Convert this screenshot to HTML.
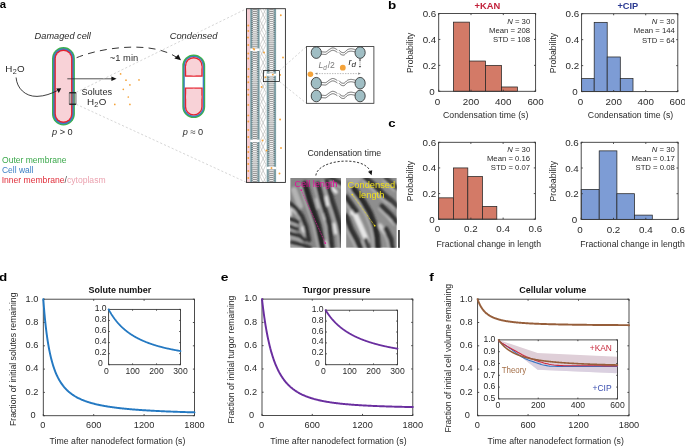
<!DOCTYPE html><html><head><meta charset="utf-8"><style>html,body{margin:0;padding:0;background:#fff;overflow:hidden}svg{display:block;will-change:transform}text{font-family:"Liberation Sans",sans-serif}</style></head><body>
<svg width="685" height="446" viewBox="0 0 685 446">
<rect width="685" height="446" fill="#fff"/>
<defs>
<pattern id="mem" x="0" y="0.2" width="9.4" height="2.05" patternUnits="userSpaceOnUse">
 <rect x="0" y="0" width="9.4" height="2.05" fill="#f8f8f8"/>
 <rect x="0" y="0" width="2.1" height="2.05" fill="#7fa2a9"/>
 <rect x="7.3" y="0" width="2.1" height="2.05" fill="#7fa2a9"/>
 <rect x="1.4" y="1.3" width="1.1" height="0.75" fill="#3e4a4d"/>
 <rect x="6.9" y="1.3" width="1.1" height="0.75" fill="#3e4a4d"/>
 <rect x="2.5" y="0.45" width="4.4" height="0.9" fill="#8c8c8c"/>
</pattern>
<filter id="bl" x="-20%" y="-20%" width="140%" height="140%"><feGaussianBlur stdDeviation="1.2"/></filter>
</defs>
<text x="-0.35" y="7.5" font-size="11.6" text-anchor="start" font-weight="bold" font-style="normal" fill="#000" textLength="6.3" lengthAdjust="spacingAndGlyphs">a</text>
<text x="34.61" y="38.7" font-size="9.57" text-anchor="start" font-weight="normal" font-style="italic" fill="#2a2a2a" textLength="56.29" lengthAdjust="spacingAndGlyphs">Damaged cell</text>
<text x="169.67" y="38.7" font-size="9.71" text-anchor="start" font-weight="normal" font-style="italic" fill="#2a2a2a" textLength="47.75" lengthAdjust="spacingAndGlyphs">Condensed</text>
<rect x="52" y="47.1" width="22.9" height="78.3" rx="11.45" ry="11.45" fill="#3db24c" />
<rect x="53.15" y="48.25" width="20.6" height="76" rx="10.3" ry="10.3" fill="#3b7cc4" />
<rect x="54.5" y="49.6" width="17.9" height="73.3" rx="8.95" ry="8.95" fill="#e5232f" />
<rect x="55.85" y="50.95" width="15.2" height="70.6" rx="7.6" ry="7.6" fill="#f8d2d7" />
<clipPath id="ctop"><rect x="170" y="40" width="50" height="36.8"/></clipPath>
<clipPath id="cbot"><rect x="170" y="87.4" width="50" height="40"/></clipPath>
<rect x="182.3" y="54.5" width="22.9" height="63.6" rx="11.45" ry="11.45" fill="#3db24c" />
<rect x="183.45" y="55.65" width="20.6" height="61.3" rx="10.3" ry="10.3" fill="#3b7cc4" />
<rect x="184.8" y="57" width="17.9" height="58.6" rx="8.95" ry="8.95" fill="#fff" />
<g clip-path="url(#ctop)">
<rect x="184.8" y="57" width="17.9" height="58.6" rx="8.95" ry="8.95" fill="#e5232f" />
<rect x="186.2" y="58.4" width="15.1" height="17" rx="7.55" fill="#f8d2d7"/>
<rect x="186.2" y="66" width="15.1" height="9.4" fill="#f8d2d7"/>
</g><g clip-path="url(#cbot)">
<rect x="184.8" y="57" width="17.9" height="58.6" rx="8.95" ry="8.95" fill="#e5232f" />
<rect x="186.2" y="88.7" width="15.1" height="25.5" rx="7.55" fill="#f8d2d7"/>
<rect x="186.2" y="88.7" width="15.1" height="10" fill="#f8d2d7"/>
</g>
<rect x="69.3" y="92.4" width="6.8" height="12.2" rx="0.6" fill="#7a7a7a" fill-opacity="0.45" stroke="#6a6a6a" stroke-width="0.7"/>
<line x1="69.3" y1="92.8" x2="76.1" y2="92.8" stroke="#111" stroke-width="1.1"/>
<line x1="69.3" y1="104.2" x2="76.1" y2="104.2" stroke="#111" stroke-width="1.1"/>
<text x="5.35" y="71.9" font-size="9.8" text-anchor="start" font-weight="normal" font-style="normal" fill="#2a2a2a" >H<tspan font-size="7.2" dy="2.4" dx="0.2">2</tspan><tspan dy="-2.4" dx="0.3">O</tspan></text>
<path d="M16.1,77.5 C16.8,88 25,96.6 37,96.4 C45,96.2 51.5,93.5 57.3,90.6" fill="none" stroke="#1e1e1e" stroke-width="0.85"/>
<path d="M61.2,88.2 L56.2,88.6 L58.8,93 Z" fill="#111"/>
<line x1="67.3" y1="78.8" x2="112.5" y2="78.8" stroke="#333" stroke-width="0.85" />
<path d="M116.6,78.8 L111.4,76.5 L111.4,81.1 Z" fill="#111"/>
<text x="81.47" y="94.5" font-size="9.55" text-anchor="start" font-weight="normal" font-style="normal" fill="#2a2a2a" textLength="30.67" lengthAdjust="spacingAndGlyphs">Solutes</text>
<text x="87.05" y="104.7" font-size="9.8" text-anchor="start" font-weight="normal" font-style="normal" fill="#2a2a2a" >H<tspan font-size="7.2" dy="2.2" dx="0.2">2</tspan><tspan dy="-2.2" dx="0.3">O</tspan></text>
<path d="M76.6,57.7 C100,48 150,40 176.5,57.2" fill="none" stroke="#1e1e1e" stroke-width="0.9" stroke-dasharray="7,5.2"/>
<path d="M181,60.2 L174.4,58.4 L178.4,54.6 Z" fill="#111"/>
<text x="109.86" y="60.6" font-size="9.71" text-anchor="start" font-weight="normal" font-style="normal" fill="#2a2a2a" textLength="28.31" lengthAdjust="spacingAndGlyphs">~1 min</text>
<text x="52" y="134.8" font-size="9.2" text-anchor="start" font-weight="normal" font-style="normal" fill="#2a2a2a" ><tspan font-style="italic">p</tspan> &gt; 0</text>
<text x="182.7" y="134.9" font-size="9.2" text-anchor="start" font-weight="normal" font-style="normal" fill="#2a2a2a" ><tspan font-style="italic">p</tspan> ≈ 0</text>
<text x="2" y="162.5" font-size="8.88" text-anchor="start" font-weight="normal" font-style="normal" fill="#3aa84a" textLength="64.54" lengthAdjust="spacingAndGlyphs">Outer membrane</text>
<text x="1.96" y="172.5" font-size="8.8" text-anchor="start" font-weight="normal" font-style="normal" fill="#3c7fc4" textLength="31.54" lengthAdjust="spacingAndGlyphs">Cell wall</text>
<text x="1.63" y="182.6" font-size="8.59" text-anchor="start" font-weight="normal" font-style="normal" fill="#e02e3a" >Inner membrane<tspan fill="#444">/</tspan><tspan fill="#eba3b0">cytoplasm</tspan></text>
<circle cx="120.6" cy="73.9" r="0.85" fill="#f5a33a"/>
<circle cx="126.0" cy="80.2" r="0.85" fill="#f5a33a"/>
<circle cx="139.0" cy="79.9" r="0.85" fill="#f5a33a"/>
<circle cx="129.9" cy="84.9" r="0.85" fill="#f5a33a"/>
<circle cx="123.3" cy="89.3" r="0.85" fill="#f5a33a"/>
<circle cx="128.3" cy="97.0" r="0.85" fill="#f5a33a"/>
<circle cx="114.8" cy="104.4" r="0.85" fill="#f5a33a"/>
<circle cx="129.9" cy="104.4" r="0.85" fill="#f5a33a"/>
<line x1="76.2" y1="92.3" x2="246.5" y2="8.7" stroke="#c4c4c4" stroke-width="0.7" stroke-dasharray="2.2,2"/>
<line x1="76.2" y1="104.3" x2="246.5" y2="182.4" stroke="#c4c4c4" stroke-width="0.7" stroke-dasharray="2.2,2"/>
<rect x="246.5" y="8.7" width="38.9" height="173.7" fill="#fff"/>
<clipPath id="memclip"><rect x="246.5" y="8.7" width="38.9" height="173.7"/></clipPath>
<rect x="246.5" y="8.7" width="3.7" height="173.7" fill="#f6cdd3"/>
<g transform="translate(250.2,0)"><rect x="0" y="8.7" width="9.4" height="173.7" fill="url(#mem)"/></g>
<g transform="translate(266.7,0)"><rect x="0" y="8.7" width="9.4" height="173.7" fill="url(#mem)"/></g>
<g clip-path="url(#memclip)">
<polyline points="260.2,8.7 266,20.7 260.2,32.7 266,44.7 260.2,56.7 266,68.7 260.2,80.7 266,92.7 260.2,104.7 266,116.7 260.2,128.7 266,140.7 260.2,152.7 266,164.7 260.2,176.7 266,188.7" fill="none" stroke="#a4a4a4" stroke-width="0.5" stroke-linejoin="round" stroke-linecap="round" />
<polyline points="260.2,-3.3 266,8.7 260.2,20.7 266,32.7 260.2,44.7 266,56.7 260.2,68.7 266,80.7 260.2,92.7 266,104.7 260.2,116.7 266,128.7 260.2,140.7 266,152.7 260.2,164.7 266,176.7 260.2,188.7" fill="none" stroke="#a4a4a4" stroke-width="0.5" stroke-linejoin="round" stroke-linecap="round" />
<polyline points="260.2,2.7 266,14.7 260.2,26.7 266,38.7 260.2,50.7 266,62.7 260.2,74.7 266,86.7 260.2,98.7 266,110.7 260.2,122.7 266,134.7 260.2,146.7 266,158.7 260.2,170.7 266,182.7" fill="none" stroke="#bcbcbc" stroke-width="0.5" stroke-linejoin="round" stroke-linecap="round" />
</g>
<rect x="250.2" y="48.4" width="9.4" height="2.6" fill="#fff"/>
<rect x="250.2" y="139.6" width="9.4" height="2.4" fill="#fff"/>
<rect x="266.7" y="73.6" width="9.4" height="2.2" fill="#fff"/>
<rect x="266.7" y="166.8" width="9.4" height="2.4" fill="#fff"/>
<circle cx="248.3" cy="25.5" r="0.95" fill="#f5a33a"/>
<circle cx="248.3" cy="31" r="0.95" fill="#f5a33a"/>
<circle cx="248.0" cy="37.5" r="0.95" fill="#f5a33a"/>
<circle cx="248.3" cy="45" r="0.95" fill="#f5a33a"/>
<circle cx="248.3" cy="53.5" r="0.95" fill="#f5a33a"/>
<circle cx="248.3" cy="58.5" r="0.95" fill="#f5a33a"/>
<circle cx="248.5" cy="69" r="0.95" fill="#f5a33a"/>
<circle cx="248.3" cy="76.8" r="0.95" fill="#f5a33a"/>
<circle cx="248.3" cy="82.2" r="0.95" fill="#f5a33a"/>
<circle cx="248.3" cy="89.6" r="0.95" fill="#f5a33a"/>
<circle cx="248.3" cy="94.7" r="0.95" fill="#f5a33a"/>
<circle cx="248.3" cy="104.9" r="0.95" fill="#f5a33a"/>
<circle cx="248.3" cy="115.4" r="0.95" fill="#f5a33a"/>
<circle cx="248.3" cy="121.5" r="0.95" fill="#f5a33a"/>
<circle cx="248.3" cy="130" r="0.95" fill="#f5a33a"/>
<circle cx="248.3" cy="137" r="0.95" fill="#f5a33a"/>
<circle cx="248.5" cy="147" r="0.95" fill="#f5a33a"/>
<circle cx="248.3" cy="152" r="0.95" fill="#f5a33a"/>
<circle cx="248.3" cy="158" r="0.95" fill="#f5a33a"/>
<circle cx="248.3" cy="164" r="0.95" fill="#f5a33a"/>
<circle cx="248.3" cy="171" r="0.95" fill="#f5a33a"/>
<circle cx="248.3" cy="178" r="0.95" fill="#f5a33a"/>
<circle cx="280.8" cy="15.2" r="0.95" fill="#f5a33a"/>
<circle cx="283.0" cy="57.5" r="0.95" fill="#f5a33a"/>
<circle cx="280.1" cy="74.9" r="0.95" fill="#f5a33a"/>
<circle cx="272.8" cy="74.6" r="0.95" fill="#f5a33a"/>
<circle cx="265.5" cy="77.2" r="0.95" fill="#f5a33a"/>
<circle cx="261.6" cy="87" r="0.95" fill="#f5a33a"/>
<circle cx="264.0" cy="52.5" r="0.95" fill="#f5a33a"/>
<circle cx="254.2" cy="49.5" r="0.95" fill="#f5a33a"/>
<circle cx="280.1" cy="119.5" r="0.95" fill="#f5a33a"/>
<circle cx="281.0" cy="148" r="0.95" fill="#f5a33a"/>
<circle cx="279.5" cy="173.5" r="0.95" fill="#f5a33a"/>
<circle cx="262.5" cy="140.5" r="0.95" fill="#f5a33a"/>
<circle cx="266.5" cy="150.5" r="0.95" fill="#f5a33a"/>
<circle cx="271.5" cy="168" r="0.95" fill="#f5a33a"/>
<circle cx="253.5" cy="48.6" r="0.95" fill="#f5a33a"/>
<rect x="246.5" y="8.7" width="38.9" height="173.7" fill="none" stroke="#2a2a2a" stroke-width="0.9"/>
<rect x="263.4" y="70.6" width="16.1" height="11" fill="none" stroke="#222" stroke-width="0.8"/>
<line x1="279.5" y1="70.6" x2="306.4" y2="46.6" stroke="#c4c4c4" stroke-width="0.7" stroke-dasharray="2.2,2"/>
<line x1="279.5" y1="81.6" x2="306.4" y2="103.3" stroke="#c4c4c4" stroke-width="0.7" stroke-dasharray="2.2,2"/>
<rect x="306.4" y="46.6" width="67.5" height="56.7" fill="#fff" stroke="#2a2a2a" stroke-width="0.8"/>
<polyline points="321.4,51.8 321.56,51.81 321.77,51.83 322.02,51.85 322.29,51.88 322.59,51.9 322.9,51.92 323.2,51.94 323.5,51.95 323.79,51.97 324.09,52 324.39,52.04 324.69,52.07 325.01,52.09 325.33,52.07 325.66,52.01 326,51.9 326.35,51.72 326.71,51.49 327.08,51.21 327.46,50.9 327.85,50.58 328.23,50.27 328.62,49.97 329,49.7 329.39,49.45 329.78,49.19 330.18,48.94 330.58,48.69 330.98,48.47 331.36,48.27 331.74,48.11 332.1,48 332.44,47.93 332.77,47.91 333.09,47.92 333.39,47.96 333.7,48.02 334,48.1 334.3,48.2 334.6,48.3 334.92,48.43 335.26,48.61 335.61,48.81 335.96,49.02 336.28,49.23 336.57,49.42 336.82,49.58 337,49.7" fill="none" stroke="#2e2e2e" stroke-width="0.7" stroke-linejoin="round" stroke-linecap="round" />
<polyline points="321.4,54.2 321.56,54.21 321.77,54.23 322.02,54.25 322.29,54.28 322.59,54.3 322.9,54.32 323.2,54.34 323.5,54.35 323.79,54.37 324.09,54.4 324.39,54.44 324.69,54.47 325.01,54.49 325.33,54.47 325.66,54.41 326,54.3 326.35,54.12 326.71,53.89 327.08,53.61 327.46,53.3 327.85,52.98 328.23,52.67 328.62,52.37 329,52.1 329.39,51.85 329.78,51.59 330.18,51.34 330.58,51.09 330.98,50.87 331.36,50.67 331.74,50.51 332.1,50.4 332.44,50.33 332.77,50.31 333.09,50.32 333.39,50.36 333.7,50.42 334,50.5 334.3,50.6 334.6,50.7 334.92,50.83 335.26,51.01 335.61,51.21 335.96,51.42 336.28,51.63 336.57,51.82 336.82,51.98 337,52.1" fill="none" stroke="#2e2e2e" stroke-width="0.7" stroke-linejoin="round" stroke-linecap="round" />
<polyline points="339.2,50.3 339.36,50.46 339.56,50.68 339.8,50.94 340.07,51.23 340.36,51.52 340.67,51.79 340.98,52.03 341.3,52.2 341.62,52.34 341.96,52.46 342.32,52.57 342.68,52.64 343.06,52.68 343.44,52.68 343.82,52.62 344.2,52.5 344.59,52.29 344.98,51.97 345.38,51.59 345.79,51.18 346.19,50.75 346.6,50.34 347,49.98 347.4,49.7 347.8,49.49 348.2,49.32 348.6,49.18 349.01,49.06 349.4,48.97 349.78,48.9 350.15,48.85 350.5,48.8 350.83,48.77 351.13,48.77 351.43,48.78 351.71,48.81 351.98,48.85 352.25,48.9 352.52,48.95 352.8,49 353.09,49.05 353.41,49.12 353.73,49.19 354.04,49.26 354.34,49.34 354.61,49.4 354.83,49.46 355,49.5" fill="none" stroke="#2e2e2e" stroke-width="0.7" stroke-linejoin="round" stroke-linecap="round" />
<polyline points="339.2,52.7 339.36,52.86 339.56,53.08 339.8,53.34 340.07,53.63 340.36,53.92 340.67,54.19 340.98,54.43 341.3,54.6 341.62,54.74 341.96,54.86 342.32,54.97 342.68,55.04 343.06,55.08 343.44,55.08 343.82,55.02 344.2,54.9 344.59,54.69 344.98,54.37 345.38,53.99 345.79,53.57 346.19,53.15 346.6,52.74 347,52.38 347.4,52.1 347.8,51.89 348.2,51.72 348.6,51.58 349.01,51.46 349.4,51.37 349.78,51.3 350.15,51.25 350.5,51.2 350.83,51.17 351.13,51.17 351.43,51.18 351.71,51.21 351.98,51.25 352.25,51.3 352.52,51.35 352.8,51.4 353.09,51.45 353.41,51.52 353.73,51.59 354.04,51.66 354.34,51.74 354.61,51.8 354.83,51.86 355,51.9" fill="none" stroke="#2e2e2e" stroke-width="0.7" stroke-linejoin="round" stroke-linecap="round" />
<ellipse cx="316.3" cy="52.6" rx="5.1" ry="5.8" fill="#a0bec4" stroke="#262626" stroke-width="0.8"/>
<ellipse cx="360.1" cy="52.6" rx="5.1" ry="5.8" fill="#a0bec4" stroke="#262626" stroke-width="0.8"/>
<polyline points="321.4,82.4 321.56,82.41 321.77,82.43 322.02,82.45 322.29,82.48 322.59,82.5 322.9,82.52 323.2,82.54 323.5,82.55 323.79,82.57 324.09,82.6 324.39,82.64 324.69,82.67 325.01,82.69 325.33,82.67 325.66,82.61 326,82.5 326.35,82.32 326.71,82.09 327.08,81.81 327.46,81.5 327.85,81.18 328.23,80.87 328.62,80.57 329,80.3 329.39,80.05 329.78,79.79 330.18,79.54 330.58,79.29 330.98,79.07 331.36,78.87 331.74,78.71 332.1,78.6 332.44,78.53 332.77,78.51 333.09,78.52 333.39,78.56 333.7,78.62 334,78.7 334.3,78.8 334.6,78.9 334.92,79.03 335.26,79.21 335.61,79.41 335.96,79.62 336.28,79.83 336.57,80.02 336.82,80.18 337,80.3" fill="none" stroke="#2e2e2e" stroke-width="0.7" stroke-linejoin="round" stroke-linecap="round" />
<polyline points="321.4,84.8 321.56,84.81 321.77,84.83 322.02,84.85 322.29,84.88 322.59,84.9 322.9,84.92 323.2,84.94 323.5,84.95 323.79,84.97 324.09,85 324.39,85.04 324.69,85.07 325.01,85.09 325.33,85.07 325.66,85.01 326,84.9 326.35,84.72 326.71,84.49 327.08,84.21 327.46,83.9 327.85,83.58 328.23,83.27 328.62,82.97 329,82.7 329.39,82.45 329.78,82.19 330.18,81.94 330.58,81.69 330.98,81.47 331.36,81.27 331.74,81.11 332.1,81 332.44,80.93 332.77,80.91 333.09,80.92 333.39,80.96 333.7,81.02 334,81.1 334.3,81.2 334.6,81.3 334.92,81.43 335.26,81.61 335.61,81.81 335.96,82.02 336.28,82.23 336.57,82.42 336.82,82.58 337,82.7" fill="none" stroke="#2e2e2e" stroke-width="0.7" stroke-linejoin="round" stroke-linecap="round" />
<polyline points="339.2,80.9 339.36,81.06 339.56,81.28 339.8,81.54 340.07,81.83 340.36,82.12 340.67,82.39 340.98,82.63 341.3,82.8 341.62,82.94 341.96,83.06 342.32,83.17 342.68,83.24 343.06,83.28 343.44,83.28 343.82,83.22 344.2,83.1 344.59,82.89 344.98,82.57 345.38,82.19 345.79,81.78 346.19,81.35 346.6,80.94 347,80.58 347.4,80.3 347.8,80.09 348.2,79.92 348.6,79.78 349.01,79.66 349.4,79.57 349.78,79.5 350.15,79.45 350.5,79.4 350.83,79.37 351.13,79.37 351.43,79.38 351.71,79.41 351.98,79.45 352.25,79.5 352.52,79.55 352.8,79.6 353.09,79.65 353.41,79.72 353.73,79.79 354.04,79.86 354.34,79.94 354.61,80 354.83,80.06 355,80.1" fill="none" stroke="#2e2e2e" stroke-width="0.7" stroke-linejoin="round" stroke-linecap="round" />
<polyline points="339.2,83.3 339.36,83.46 339.56,83.68 339.8,83.94 340.07,84.23 340.36,84.52 340.67,84.79 340.98,85.03 341.3,85.2 341.62,85.34 341.96,85.46 342.32,85.57 342.68,85.64 343.06,85.68 343.44,85.68 343.82,85.62 344.2,85.5 344.59,85.29 344.98,84.97 345.38,84.59 345.79,84.18 346.19,83.75 346.6,83.34 347,82.98 347.4,82.7 347.8,82.49 348.2,82.32 348.6,82.18 349.01,82.06 349.4,81.97 349.78,81.9 350.15,81.85 350.5,81.8 350.83,81.77 351.13,81.77 351.43,81.78 351.71,81.81 351.98,81.85 352.25,81.9 352.52,81.95 352.8,82 353.09,82.05 353.41,82.12 353.73,82.19 354.04,82.26 354.34,82.34 354.61,82.4 354.83,82.46 355,82.5" fill="none" stroke="#2e2e2e" stroke-width="0.7" stroke-linejoin="round" stroke-linecap="round" />
<ellipse cx="316.3" cy="83.2" rx="5.1" ry="5.8" fill="#a0bec4" stroke="#262626" stroke-width="0.8"/>
<ellipse cx="360.1" cy="83.2" rx="5.1" ry="5.8" fill="#a0bec4" stroke="#262626" stroke-width="0.8"/>
<polyline points="321.4,95.2 321.56,95.21 321.77,95.23 322.02,95.25 322.29,95.28 322.59,95.3 322.9,95.32 323.2,95.34 323.5,95.35 323.79,95.37 324.09,95.4 324.39,95.44 324.69,95.47 325.01,95.49 325.33,95.47 325.66,95.41 326,95.3 326.35,95.12 326.71,94.89 327.08,94.61 327.46,94.3 327.85,93.98 328.23,93.67 328.62,93.37 329,93.1 329.39,92.85 329.78,92.59 330.18,92.34 330.58,92.09 330.98,91.87 331.36,91.67 331.74,91.51 332.1,91.4 332.44,91.33 332.77,91.31 333.09,91.32 333.39,91.36 333.7,91.42 334,91.5 334.3,91.6 334.6,91.7 334.92,91.83 335.26,92.01 335.61,92.21 335.96,92.42 336.28,92.63 336.57,92.82 336.82,92.98 337,93.1" fill="none" stroke="#2e2e2e" stroke-width="0.7" stroke-linejoin="round" stroke-linecap="round" />
<polyline points="321.4,97.6 321.56,97.61 321.77,97.63 322.02,97.65 322.29,97.68 322.59,97.7 322.9,97.72 323.2,97.74 323.5,97.75 323.79,97.77 324.09,97.8 324.39,97.84 324.69,97.87 325.01,97.89 325.33,97.87 325.66,97.81 326,97.7 326.35,97.52 326.71,97.29 327.08,97.01 327.46,96.7 327.85,96.38 328.23,96.07 328.62,95.77 329,95.5 329.39,95.25 329.78,94.99 330.18,94.74 330.58,94.49 330.98,94.27 331.36,94.07 331.74,93.91 332.1,93.8 332.44,93.73 332.77,93.71 333.09,93.72 333.39,93.76 333.7,93.82 334,93.9 334.3,94 334.6,94.1 334.92,94.23 335.26,94.41 335.61,94.61 335.96,94.82 336.28,95.03 336.57,95.22 336.82,95.38 337,95.5" fill="none" stroke="#2e2e2e" stroke-width="0.7" stroke-linejoin="round" stroke-linecap="round" />
<polyline points="339.2,93.7 339.36,93.86 339.56,94.08 339.8,94.34 340.07,94.63 340.36,94.92 340.67,95.19 340.98,95.43 341.3,95.6 341.62,95.74 341.96,95.86 342.32,95.97 342.68,96.04 343.06,96.08 343.44,96.08 343.82,96.02 344.2,95.9 344.59,95.69 344.98,95.37 345.38,94.99 345.79,94.58 346.19,94.15 346.6,93.74 347,93.38 347.4,93.1 347.8,92.89 348.2,92.72 348.6,92.57 349.01,92.46 349.4,92.37 349.78,92.3 350.15,92.25 350.5,92.2 350.83,92.17 351.13,92.17 351.43,92.18 351.71,92.21 351.98,92.25 352.25,92.3 352.52,92.35 352.8,92.4 353.09,92.45 353.41,92.52 353.73,92.59 354.04,92.66 354.34,92.74 354.61,92.8 354.83,92.86 355,92.9" fill="none" stroke="#2e2e2e" stroke-width="0.7" stroke-linejoin="round" stroke-linecap="round" />
<polyline points="339.2,96.1 339.36,96.26 339.56,96.48 339.8,96.74 340.07,97.03 340.36,97.32 340.67,97.59 340.98,97.83 341.3,98 341.62,98.14 341.96,98.26 342.32,98.37 342.68,98.44 343.06,98.48 343.44,98.48 343.82,98.42 344.2,98.3 344.59,98.09 344.98,97.77 345.38,97.39 345.79,96.98 346.19,96.55 346.6,96.14 347,95.78 347.4,95.5 347.8,95.29 348.2,95.12 348.6,94.98 349.01,94.86 349.4,94.77 349.78,94.7 350.15,94.65 350.5,94.6 350.83,94.57 351.13,94.57 351.43,94.58 351.71,94.61 351.98,94.65 352.25,94.7 352.52,94.75 352.8,94.8 353.09,94.85 353.41,94.92 353.73,94.99 354.04,95.06 354.34,95.14 354.61,95.2 354.83,95.26 355,95.3" fill="none" stroke="#2e2e2e" stroke-width="0.7" stroke-linejoin="round" stroke-linecap="round" />
<ellipse cx="316.3" cy="96.0" rx="5.1" ry="5.8" fill="#a0bec4" stroke="#262626" stroke-width="0.8"/>
<ellipse cx="360.1" cy="96.0" rx="5.1" ry="5.8" fill="#a0bec4" stroke="#262626" stroke-width="0.8"/>
<text x="318.5" y="67.6" font-size="8.6" text-anchor="start" font-weight="normal" font-style="normal" fill="#7a7a7a" ><tspan font-style="italic">L</tspan><tspan font-size="6.4" dy="2.3" font-style="italic">d</tspan><tspan dy="-2.3" dx="0.8">/2</tspan></text>
<text x="348.6" y="64.9" font-size="9.2" text-anchor="start" font-weight="normal" font-style="normal" fill="#222" ><tspan font-style="italic">r</tspan><tspan font-size="8.0" dy="2.3" dx="-0.2" font-style="italic">d</tspan></text>
<circle cx="342.8" cy="67.7" r="2.9" fill="#f5a33a"/>
<circle cx="310.4" cy="74.2" r="2.8" fill="#f5a33a"/>
<line x1="316.4" y1="73.6" x2="359.4" y2="73.6" stroke="#8a8a8a" stroke-width="0.6" stroke-dasharray="1.4,1.2"/>
<path d="M314.8,73.6 L317.4,72.4 L317.4,74.8 Z" fill="#8a8a8a"/>
<path d="M360.8,73.6 L358.2,72.4 L358.2,74.8 Z" fill="#8a8a8a"/>
<line x1="360" y1="60.5" x2="360" y2="66" stroke="#333" stroke-width="0.6" stroke-dasharray="1,0.9"/>
<path d="M360,67.8 L358.9,65.9 L361.1,65.9 Z" fill="#333"/>
<path d="M360,58.6 L358.9,60.5 L361.1,60.5 Z" fill="#333"/>
<text x="307.44" y="155.5" font-size="9.2" text-anchor="start" font-weight="normal" font-style="normal" fill="#2a2a2a" textLength="73.76" lengthAdjust="spacingAndGlyphs">Condensation time</text>
<path d="M315.8,175.5 C318,159 364,155.5 370.2,171.2" fill="none" stroke="#1e1e1e" stroke-width="0.9" stroke-dasharray="2.2,1.7"/>
<path d="M371.6,175.2 L368,171.8 L372.2,170.2 Z" fill="#111"/>
<clipPath id="mc1"><rect x="290.2" y="178.0" width="50.8" height="69.8"/></clipPath>
<g clip-path="url(#mc1)">
<rect x="290.2" y="178.0" width="50.8" height="69.8" fill="#868686"/>
<g filter="url(#bl)">
<polyline points="294,190 297,198 300,206" fill="none" stroke="#b4b4b4" stroke-width="6" stroke-linejoin="round" stroke-linecap="round" />
<polyline points="292,208 296,212" fill="none" stroke="#c4c4c4" stroke-width="4" stroke-linejoin="round" stroke-linecap="round" />
<polyline points="289.5,210 290,215" fill="none" stroke="#eeeeee" stroke-width="3.5" stroke-linejoin="round" stroke-linecap="round" />
<polyline points="302.5,228 303.5,231" fill="none" stroke="#e8e8e8" stroke-width="3.5" stroke-linejoin="round" stroke-linecap="round" />
<polyline points="326.5,197 327.5,205" fill="none" stroke="#f2f2f2" stroke-width="3.2" stroke-linejoin="round" stroke-linecap="round" />
<polyline points="334,224 335.5,233" fill="none" stroke="#e8e8e8" stroke-width="3.0" stroke-linejoin="round" stroke-linecap="round" />
<polyline points="324.5,214 325.5,219" fill="none" stroke="#f0f0f0" stroke-width="3.0" stroke-linejoin="round" stroke-linecap="round" />
<polyline points="325,242 327,248" fill="none" stroke="#f2f2f2" stroke-width="3.5" stroke-linejoin="round" stroke-linecap="round" />
<polyline points="316,199 318,208" fill="none" stroke="#c8c8c8" stroke-width="2.0" stroke-linejoin="round" stroke-linecap="round" />
<polyline points="332,188 336,192" fill="none" stroke="#e8e8e8" stroke-width="3.5" stroke-linejoin="round" stroke-linecap="round" />
<polyline points="300.46,185.28 304.96,201.28 309.46,214.28 313.46,226.28 318.46,249.28" fill="none" stroke="#cccccc" stroke-width="1.8" stroke-linejoin="round" stroke-linecap="round" opacity="0.65"/>
<polyline points="313.98,184.88 317.98,200.88 321.98,213.88 325.58,225.88 327.98,248.88" fill="none" stroke="#cccccc" stroke-width="1.8" stroke-linejoin="round" stroke-linecap="round" opacity="0.65"/>
<polyline points="322.99,181.96 327.99,200.96 331.99,212.96 335.99,225.96 337.99,236.96 338.99,248.96" fill="none" stroke="#cccccc" stroke-width="1.8" stroke-linejoin="round" stroke-linecap="round" opacity="0.65"/>
<polyline points="329.2,181.3 340.2,187.3" fill="none" stroke="#cccccc" stroke-width="1.8" stroke-linejoin="round" stroke-linecap="round" opacity="0.65"/>
<polyline points="285.59,204.85 292.59,209.85 298.59,217.85 302.59,227.85 305.59,241.85" fill="none" stroke="#cccccc" stroke-width="1.8" stroke-linejoin="round" stroke-linecap="round" opacity="0.65"/>
<polyline points="287.68,221.89 296.68,225.39" fill="none" stroke="#cccccc" stroke-width="1.8" stroke-linejoin="round" stroke-linecap="round" opacity="0.65"/>
<polyline points="287.76,229.3 295.76,232.3" fill="none" stroke="#cccccc" stroke-width="1.8" stroke-linejoin="round" stroke-linecap="round" opacity="0.65"/>
<polyline points="287.54,236.33 298.54,239.33 303.54,243.33" fill="none" stroke="#cccccc" stroke-width="1.8" stroke-linejoin="round" stroke-linecap="round" opacity="0.65"/>
<polyline points="290.94,245.98 301.94,248.48 308.94,251.48" fill="none" stroke="#cccccc" stroke-width="1.8" stroke-linejoin="round" stroke-linecap="round" opacity="0.65"/>
<polyline points="305,184 309.5,200 314,213 318,225 323,248" fill="none" stroke="#282828" stroke-width="6.24" stroke-linejoin="round" stroke-linecap="round" />
<polyline points="318,184 322,200 326,213 329.6,225 332,248" fill="none" stroke="#303030" stroke-width="5.04" stroke-linejoin="round" stroke-linecap="round" />
<polyline points="327,181 332,200 336,212 340,225 342,236 343,248" fill="none" stroke="#343434" stroke-width="5.04" stroke-linejoin="round" stroke-linecap="round" />
<polyline points="331,178 342,184" fill="none" stroke="#3a3a3a" stroke-width="4.32" stroke-linejoin="round" stroke-linecap="round" />
<polyline points="289,203 296,208 302,216 306,226 309,240" fill="none" stroke="#323232" stroke-width="4.56" stroke-linejoin="round" stroke-linecap="round" />
<polyline points="289,218.5 298,222" fill="none" stroke="#383838" stroke-width="4.08" stroke-linejoin="round" stroke-linecap="round" />
<polyline points="289,226 297,229" fill="none" stroke="#3a3a3a" stroke-width="3.84" stroke-linejoin="round" stroke-linecap="round" />
<polyline points="289,233 300,236 305,240" fill="none" stroke="#363636" stroke-width="4.08" stroke-linejoin="round" stroke-linecap="round" />
<polyline points="292,242.5 303,245 310,248" fill="none" stroke="#383838" stroke-width="4.08" stroke-linejoin="round" stroke-linecap="round" />
</g></g>
<clipPath id="mc2"><rect x="346.1" y="178.0" width="50.7" height="69.8"/></clipPath>
<g clip-path="url(#mc2)">
<rect x="346.1" y="178.0" width="50.7" height="69.8" fill="#8e8e8e"/>
<g filter="url(#bl)">
<polyline points="346,178 358,178 350,188" fill="none" stroke="#a4a4a4" stroke-width="7" stroke-linejoin="round" stroke-linecap="round" />
<polyline points="354,212 360,225 367,241" fill="none" stroke="#e6e6e6" stroke-width="5.5" stroke-linejoin="round" stroke-linecap="round" />
<polyline points="351.5,212 352,213.5" fill="none" stroke="#f6f6f6" stroke-width="3.5" stroke-linejoin="round" stroke-linecap="round" />
<polyline points="380,226 385,232" fill="none" stroke="#cfcfcf" stroke-width="5" stroke-linejoin="round" stroke-linecap="round" />
<polyline points="391,238 394,246" fill="none" stroke="#d8d8d8" stroke-width="3" stroke-linejoin="round" stroke-linecap="round" />
<polyline points="388,214 392,220" fill="none" stroke="#d8d8d8" stroke-width="3" stroke-linejoin="round" stroke-linecap="round" />
<polyline points="363.05,181.21 371.05,188.21 379.05,196.21 387.05,203.21" fill="none" stroke="#cccccc" stroke-width="1.8" stroke-linejoin="round" stroke-linecap="round" opacity="0.65"/>
<polyline points="349.73,190.71 358.73,202.71 365.73,214.71 370.73,227.71 372.73,237.71 373.73,250.71" fill="none" stroke="#cccccc" stroke-width="1.8" stroke-linejoin="round" stroke-linecap="round" opacity="0.65"/>
<polyline points="342.55,199.46 347.55,206.46 352.55,213.46" fill="none" stroke="#cccccc" stroke-width="1.8" stroke-linejoin="round" stroke-linecap="round" opacity="0.65"/>
<polyline points="342.03,217.8 347.03,230.8 353.03,241.8 357.03,250.8" fill="none" stroke="#cccccc" stroke-width="1.8" stroke-linejoin="round" stroke-linecap="round" opacity="0.65"/>
<polyline points="378.99,208.82 385.99,215.82 393.99,224.82" fill="none" stroke="#cccccc" stroke-width="1.8" stroke-linejoin="round" stroke-linecap="round" opacity="0.65"/>
<polyline points="382.11,230.36 387.11,240.36 389.11,250.36" fill="none" stroke="#cccccc" stroke-width="1.8" stroke-linejoin="round" stroke-linecap="round" opacity="0.65"/>
<polyline points="387.17,201.83 394.17,208.83" fill="none" stroke="#cccccc" stroke-width="1.8" stroke-linejoin="round" stroke-linecap="round" opacity="0.65"/>
<polyline points="383.39,180.87 394.39,190.87" fill="none" stroke="#cccccc" stroke-width="1.8" stroke-linejoin="round" stroke-linecap="round" opacity="0.65"/>
<polyline points="362.43,241.19 365.43,250.19" fill="none" stroke="#cccccc" stroke-width="1.8" stroke-linejoin="round" stroke-linecap="round" opacity="0.65"/>
<polyline points="366,178 374,185 382,193 390,200" fill="none" stroke="#363636" stroke-width="5.52" stroke-linejoin="round" stroke-linecap="round" />
<polyline points="354,189 363,201 370,213 375,226 377,236 378,249" fill="none" stroke="#2a2a2a" stroke-width="6.0" stroke-linejoin="round" stroke-linecap="round" />
<polyline points="346,197 351,204 356,211" fill="none" stroke="#333333" stroke-width="5.28" stroke-linejoin="round" stroke-linecap="round" />
<polyline points="346,216 351,229 357,240 361,249" fill="none" stroke="#303030" stroke-width="5.52" stroke-linejoin="round" stroke-linecap="round" />
<polyline points="382,206 389,213 397,222" fill="none" stroke="#363636" stroke-width="5.04" stroke-linejoin="round" stroke-linecap="round" />
<polyline points="386,229 391,239 393,249" fill="none" stroke="#363636" stroke-width="5.04" stroke-linejoin="round" stroke-linecap="round" />
<polyline points="390,199 397,206" fill="none" stroke="#3c3c3c" stroke-width="4.8" stroke-linejoin="round" stroke-linecap="round" />
<polyline points="386,178 397,188" fill="none" stroke="#454545" stroke-width="4.56" stroke-linejoin="round" stroke-linecap="round" />
<polyline points="366,240 369,249" fill="none" stroke="#444" stroke-width="4.32" stroke-linejoin="round" stroke-linecap="round" />
</g></g>
<text x="294.42" y="187" font-size="9.51" text-anchor="start" font-weight="normal" font-style="normal" fill="#e0109a" textLength="43.25" lengthAdjust="spacingAndGlyphs">Cell length</text>
<text x="347.62" y="188.4" font-size="9.66" text-anchor="start" font-weight="normal" font-style="normal" fill="#f0e01c" textLength="47.57" lengthAdjust="spacingAndGlyphs">Condensed</text>
<text x="359.07" y="198" font-size="9.64" text-anchor="start" font-weight="normal" font-style="normal" fill="#f0e01c" textLength="25.3" lengthAdjust="spacingAndGlyphs">length</text>
<line x1="301.3" y1="190.1" x2="325.3" y2="243.1" stroke="#e0189b" stroke-width="0.8" stroke-dasharray="1,0.8"/>
<circle cx="301.3" cy="190.1" r="0.9" fill="#e0189b"/><circle cx="325.3" cy="243.1" r="0.9" fill="#e0189b"/>
<line x1="352.3" y1="194.6" x2="374.7" y2="225.7" stroke="#f0e01c" stroke-width="0.8" stroke-dasharray="1,0.8"/>
<circle cx="352.3" cy="194.6" r="0.9" fill="#f0e01c"/><circle cx="374.7" cy="225.7" r="0.9" fill="#f0e01c"/>
<rect x="398.1" y="230" width="1.7" height="17.8" fill="#333"/>
<text x="387.95" y="8.7" font-size="11.6" text-anchor="start" font-weight="bold" font-style="normal" fill="#000" textLength="8.23" lengthAdjust="spacingAndGlyphs">b</text>
<text x="388.24" y="126.7" font-size="11.6" text-anchor="start" font-weight="bold" font-style="normal" fill="#000" textLength="7.33" lengthAdjust="spacingAndGlyphs">c</text>
<text x="474.53" y="8.6" font-size="9.34" text-anchor="start" font-weight="bold" font-style="normal" fill="#c2203a" >+KAN</text>
<text x="617.43" y="8.7" font-size="9.27" text-anchor="start" font-weight="bold" font-style="normal" fill="#2b3a92" >+CIP</text>
<rect x="453.4" y="22.14" width="16" height="69.16" fill="#d37a67" stroke="#262626" stroke-width="0.75"/>
<rect x="469.4" y="61.04" width="16.1" height="30.26" fill="#d37a67" stroke="#262626" stroke-width="0.75"/>
<rect x="485.5" y="65.37" width="16" height="25.93" fill="#d37a67" stroke="#262626" stroke-width="0.75"/>
<rect x="501.5" y="86.98" width="15.9" height="4.32" fill="#d37a67" stroke="#262626" stroke-width="0.75"/>
<rect x="438.7" y="13.5" width="96.9" height="77.8" fill="none" stroke="#3a3a3a" stroke-width="0.9"/>
<line x1="438.7" y1="91.3" x2="438.7" y2="89.7" stroke="#3a3a3a" stroke-width="0.9" />
<line x1="438.7" y1="13.5" x2="438.7" y2="15.1" stroke="#3a3a3a" stroke-width="0.9" />
<text x="437.6" y="104.5" font-size="9.8" text-anchor="middle" font-weight="normal" font-style="normal" fill="#2a2a2a" >0</text>
<line x1="471" y1="91.3" x2="471" y2="89.7" stroke="#3a3a3a" stroke-width="0.9" />
<line x1="471" y1="13.5" x2="471" y2="15.1" stroke="#3a3a3a" stroke-width="0.9" />
<text x="471" y="104.5" font-size="9.8" text-anchor="middle" font-weight="normal" font-style="normal" fill="#2a2a2a" >200</text>
<line x1="503.3" y1="91.3" x2="503.3" y2="89.7" stroke="#3a3a3a" stroke-width="0.9" />
<line x1="503.3" y1="13.5" x2="503.3" y2="15.1" stroke="#3a3a3a" stroke-width="0.9" />
<text x="503.3" y="104.5" font-size="9.8" text-anchor="middle" font-weight="normal" font-style="normal" fill="#2a2a2a" >400</text>
<line x1="535.6" y1="91.3" x2="535.6" y2="89.7" stroke="#3a3a3a" stroke-width="0.9" />
<line x1="535.6" y1="13.5" x2="535.6" y2="15.1" stroke="#3a3a3a" stroke-width="0.9" />
<text x="535.6" y="104.5" font-size="9.8" text-anchor="middle" font-weight="normal" font-style="normal" fill="#2a2a2a" >600</text>
<line x1="438.7" y1="91.3" x2="440.3" y2="91.3" stroke="#3a3a3a" stroke-width="0.9" />
<line x1="535.6" y1="91.3" x2="534" y2="91.3" stroke="#3a3a3a" stroke-width="0.9" />
<text x="434.7" y="94.8" font-size="9.8" text-anchor="end" font-weight="normal" font-style="normal" fill="#2a2a2a" >0</text>
<line x1="438.7" y1="65.37" x2="440.3" y2="65.37" stroke="#3a3a3a" stroke-width="0.9" />
<line x1="535.6" y1="65.37" x2="534" y2="65.37" stroke="#3a3a3a" stroke-width="0.9" />
<text x="436.3" y="68.87" font-size="9.8" text-anchor="end" font-weight="normal" font-style="normal" fill="#2a2a2a" >0.2</text>
<line x1="438.7" y1="39.43" x2="440.3" y2="39.43" stroke="#3a3a3a" stroke-width="0.9" />
<line x1="535.6" y1="39.43" x2="534" y2="39.43" stroke="#3a3a3a" stroke-width="0.9" />
<text x="436.3" y="42.93" font-size="9.8" text-anchor="end" font-weight="normal" font-style="normal" fill="#2a2a2a" >0.4</text>
<line x1="438.7" y1="13.5" x2="440.3" y2="13.5" stroke="#3a3a3a" stroke-width="0.9" />
<line x1="535.6" y1="13.5" x2="534" y2="13.5" stroke="#3a3a3a" stroke-width="0.9" />
<text x="436.3" y="17" font-size="9.8" text-anchor="end" font-weight="normal" font-style="normal" fill="#2a2a2a" >0.6</text>
<text x="0" y="0" font-size="8.67" fill="#2a2a2a" transform="translate(413.1,72.99) rotate(-90)">Probability</text>
<text x="443.05" y="118.1" font-size="9.07" text-anchor="start" font-weight="normal" font-style="normal" fill="#2a2a2a" textLength="85.32" lengthAdjust="spacingAndGlyphs">Condensation time (s)</text>
<text x="530.2" y="23.8" font-size="7.75" text-anchor="end" font-weight="normal" font-style="normal" fill="#2a2a2a" ><tspan font-style="italic">N</tspan> = 30</text>
<text x="530.2" y="33.3" font-size="7.75" text-anchor="end" font-weight="normal" font-style="normal" fill="#2a2a2a" >Mean = 208</text>
<text x="530.2" y="42.2" font-size="7.75" text-anchor="end" font-weight="normal" font-style="normal" fill="#2a2a2a" >STD = 108</text>
<rect x="581.6" y="78.62" width="12.6" height="12.98" fill="#7d9cd5" stroke="#262626" stroke-width="0.75"/>
<rect x="594.2" y="22.36" width="13" height="69.24" fill="#7d9cd5" stroke="#262626" stroke-width="0.75"/>
<rect x="607.2" y="56.98" width="13.1" height="34.62" fill="#7d9cd5" stroke="#262626" stroke-width="0.75"/>
<rect x="620.3" y="78.62" width="12.7" height="12.98" fill="#7d9cd5" stroke="#262626" stroke-width="0.75"/>
<rect x="581.6" y="13.7" width="96.2" height="77.9" fill="none" stroke="#3a3a3a" stroke-width="0.9"/>
<line x1="581.6" y1="91.6" x2="581.6" y2="90" stroke="#3a3a3a" stroke-width="0.9" />
<line x1="581.6" y1="13.7" x2="581.6" y2="15.3" stroke="#3a3a3a" stroke-width="0.9" />
<text x="580.5" y="104.8" font-size="9.8" text-anchor="middle" font-weight="normal" font-style="normal" fill="#2a2a2a" >0</text>
<line x1="613.67" y1="91.6" x2="613.67" y2="90" stroke="#3a3a3a" stroke-width="0.9" />
<line x1="613.67" y1="13.7" x2="613.67" y2="15.3" stroke="#3a3a3a" stroke-width="0.9" />
<text x="613.67" y="104.8" font-size="9.8" text-anchor="middle" font-weight="normal" font-style="normal" fill="#2a2a2a" >200</text>
<line x1="645.73" y1="91.6" x2="645.73" y2="90" stroke="#3a3a3a" stroke-width="0.9" />
<line x1="645.73" y1="13.7" x2="645.73" y2="15.3" stroke="#3a3a3a" stroke-width="0.9" />
<text x="645.73" y="104.8" font-size="9.8" text-anchor="middle" font-weight="normal" font-style="normal" fill="#2a2a2a" >400</text>
<line x1="677.8" y1="91.6" x2="677.8" y2="90" stroke="#3a3a3a" stroke-width="0.9" />
<line x1="677.8" y1="13.7" x2="677.8" y2="15.3" stroke="#3a3a3a" stroke-width="0.9" />
<text x="677.8" y="104.8" font-size="9.8" text-anchor="middle" font-weight="normal" font-style="normal" fill="#2a2a2a" >600</text>
<line x1="581.6" y1="91.6" x2="583.2" y2="91.6" stroke="#3a3a3a" stroke-width="0.9" />
<line x1="677.8" y1="91.6" x2="676.2" y2="91.6" stroke="#3a3a3a" stroke-width="0.9" />
<text x="577.6" y="95.1" font-size="9.8" text-anchor="end" font-weight="normal" font-style="normal" fill="#2a2a2a" >0</text>
<line x1="581.6" y1="65.63" x2="583.2" y2="65.63" stroke="#3a3a3a" stroke-width="0.9" />
<line x1="677.8" y1="65.63" x2="676.2" y2="65.63" stroke="#3a3a3a" stroke-width="0.9" />
<text x="579.2" y="69.13" font-size="9.8" text-anchor="end" font-weight="normal" font-style="normal" fill="#2a2a2a" >0.2</text>
<line x1="581.6" y1="39.67" x2="583.2" y2="39.67" stroke="#3a3a3a" stroke-width="0.9" />
<line x1="677.8" y1="39.67" x2="676.2" y2="39.67" stroke="#3a3a3a" stroke-width="0.9" />
<text x="579.2" y="43.17" font-size="9.8" text-anchor="end" font-weight="normal" font-style="normal" fill="#2a2a2a" >0.4</text>
<line x1="581.6" y1="13.7" x2="583.2" y2="13.7" stroke="#3a3a3a" stroke-width="0.9" />
<line x1="677.8" y1="13.7" x2="676.2" y2="13.7" stroke="#3a3a3a" stroke-width="0.9" />
<text x="579.2" y="17.2" font-size="9.8" text-anchor="end" font-weight="normal" font-style="normal" fill="#2a2a2a" >0.6</text>
<text x="0" y="0" font-size="8.67" fill="#2a2a2a" transform="translate(556,73.24) rotate(-90)">Probability</text>
<text x="587.85" y="118.3" font-size="9.08" text-anchor="start" font-weight="normal" font-style="normal" fill="#2a2a2a" textLength="85.42" lengthAdjust="spacingAndGlyphs">Condensation time (s)</text>
<text x="674.9" y="24.1" font-size="7.75" text-anchor="end" font-weight="normal" font-style="normal" fill="#2a2a2a" ><tspan font-style="italic">N</tspan> = 30</text>
<text x="674.9" y="33.4" font-size="7.75" text-anchor="end" font-weight="normal" font-style="normal" fill="#2a2a2a" >Mean = 144</text>
<text x="674.9" y="42.6" font-size="7.75" text-anchor="end" font-weight="normal" font-style="normal" fill="#2a2a2a" >STD = 64</text>
<rect x="438.6" y="197.84" width="14.8" height="21.36" fill="#d37a67" stroke="#262626" stroke-width="0.75"/>
<rect x="453.4" y="167.93" width="14.4" height="51.27" fill="#d37a67" stroke="#262626" stroke-width="0.75"/>
<rect x="467.8" y="176.48" width="14.7" height="42.72" fill="#d37a67" stroke="#262626" stroke-width="0.75"/>
<rect x="482.5" y="206.38" width="14.3" height="12.82" fill="#d37a67" stroke="#262626" stroke-width="0.75"/>
<rect x="438.6" y="142.3" width="96.8" height="76.9" fill="none" stroke="#3a3a3a" stroke-width="0.9"/>
<line x1="438.6" y1="219.2" x2="438.6" y2="217.6" stroke="#3a3a3a" stroke-width="0.9" />
<line x1="438.6" y1="142.3" x2="438.6" y2="143.9" stroke="#3a3a3a" stroke-width="0.9" />
<text x="437.5" y="232.4" font-size="9.8" text-anchor="middle" font-weight="normal" font-style="normal" fill="#2a2a2a" >0</text>
<line x1="470.87" y1="219.2" x2="470.87" y2="217.6" stroke="#3a3a3a" stroke-width="0.9" />
<line x1="470.87" y1="142.3" x2="470.87" y2="143.9" stroke="#3a3a3a" stroke-width="0.9" />
<text x="470.87" y="232.4" font-size="9.8" text-anchor="middle" font-weight="normal" font-style="normal" fill="#2a2a2a" >0.2</text>
<line x1="503.13" y1="219.2" x2="503.13" y2="217.6" stroke="#3a3a3a" stroke-width="0.9" />
<line x1="503.13" y1="142.3" x2="503.13" y2="143.9" stroke="#3a3a3a" stroke-width="0.9" />
<text x="503.13" y="232.4" font-size="9.8" text-anchor="middle" font-weight="normal" font-style="normal" fill="#2a2a2a" >0.4</text>
<line x1="535.4" y1="219.2" x2="535.4" y2="217.6" stroke="#3a3a3a" stroke-width="0.9" />
<line x1="535.4" y1="142.3" x2="535.4" y2="143.9" stroke="#3a3a3a" stroke-width="0.9" />
<text x="535.4" y="232.4" font-size="9.8" text-anchor="middle" font-weight="normal" font-style="normal" fill="#2a2a2a" >0.6</text>
<line x1="438.6" y1="219.2" x2="440.2" y2="219.2" stroke="#3a3a3a" stroke-width="0.9" />
<line x1="535.4" y1="219.2" x2="533.8" y2="219.2" stroke="#3a3a3a" stroke-width="0.9" />
<text x="434.6" y="222.7" font-size="9.8" text-anchor="end" font-weight="normal" font-style="normal" fill="#2a2a2a" >0</text>
<line x1="438.6" y1="193.57" x2="440.2" y2="193.57" stroke="#3a3a3a" stroke-width="0.9" />
<line x1="535.4" y1="193.57" x2="533.8" y2="193.57" stroke="#3a3a3a" stroke-width="0.9" />
<text x="436.2" y="197.07" font-size="9.8" text-anchor="end" font-weight="normal" font-style="normal" fill="#2a2a2a" >0.2</text>
<line x1="438.6" y1="167.93" x2="440.2" y2="167.93" stroke="#3a3a3a" stroke-width="0.9" />
<line x1="535.4" y1="167.93" x2="533.8" y2="167.93" stroke="#3a3a3a" stroke-width="0.9" />
<text x="436.2" y="171.43" font-size="9.8" text-anchor="end" font-weight="normal" font-style="normal" fill="#2a2a2a" >0.4</text>
<line x1="438.6" y1="142.3" x2="440.2" y2="142.3" stroke="#3a3a3a" stroke-width="0.9" />
<line x1="535.4" y1="142.3" x2="533.8" y2="142.3" stroke="#3a3a3a" stroke-width="0.9" />
<text x="436.2" y="145.8" font-size="9.8" text-anchor="end" font-weight="normal" font-style="normal" fill="#2a2a2a" >0.6</text>
<text x="0" y="0" font-size="8.67" fill="#2a2a2a" transform="translate(413,201.34) rotate(-90)">Probability</text>
<text x="436.48" y="246.9" font-size="9.05" text-anchor="start" font-weight="normal" font-style="normal" fill="#2a2a2a" textLength="104.6" lengthAdjust="spacingAndGlyphs">Fractional change in length</text>
<text x="530.2" y="151.6" font-size="7.75" text-anchor="end" font-weight="normal" font-style="normal" fill="#2a2a2a" ><tspan font-style="italic">N</tspan> = 30</text>
<text x="530.2" y="161.3" font-size="7.75" text-anchor="end" font-weight="normal" font-style="normal" fill="#2a2a2a" >Mean = 0.16</text>
<text x="530.2" y="169.9" font-size="7.75" text-anchor="end" font-weight="normal" font-style="normal" fill="#2a2a2a" >STD = 0.07</text>
<rect x="581.2" y="189.42" width="18" height="29.98" fill="#7d9cd5" stroke="#262626" stroke-width="0.75"/>
<rect x="599.2" y="150.87" width="17.7" height="68.53" fill="#7d9cd5" stroke="#262626" stroke-width="0.75"/>
<rect x="616.9" y="193.7" width="17.6" height="25.7" fill="#7d9cd5" stroke="#262626" stroke-width="0.75"/>
<rect x="634.5" y="215.12" width="17.8" height="4.28" fill="#7d9cd5" stroke="#262626" stroke-width="0.75"/>
<rect x="581.2" y="142.3" width="96.9" height="77.1" fill="none" stroke="#3a3a3a" stroke-width="0.9"/>
<line x1="581.2" y1="219.4" x2="581.2" y2="217.8" stroke="#3a3a3a" stroke-width="0.9" />
<line x1="581.2" y1="142.3" x2="581.2" y2="143.9" stroke="#3a3a3a" stroke-width="0.9" />
<text x="580.1" y="232.6" font-size="9.8" text-anchor="middle" font-weight="normal" font-style="normal" fill="#2a2a2a" >0</text>
<line x1="613.5" y1="219.4" x2="613.5" y2="217.8" stroke="#3a3a3a" stroke-width="0.9" />
<line x1="613.5" y1="142.3" x2="613.5" y2="143.9" stroke="#3a3a3a" stroke-width="0.9" />
<text x="613.5" y="232.6" font-size="9.8" text-anchor="middle" font-weight="normal" font-style="normal" fill="#2a2a2a" >0.2</text>
<line x1="645.8" y1="219.4" x2="645.8" y2="217.8" stroke="#3a3a3a" stroke-width="0.9" />
<line x1="645.8" y1="142.3" x2="645.8" y2="143.9" stroke="#3a3a3a" stroke-width="0.9" />
<text x="645.8" y="232.6" font-size="9.8" text-anchor="middle" font-weight="normal" font-style="normal" fill="#2a2a2a" >0.4</text>
<line x1="678.1" y1="219.4" x2="678.1" y2="217.8" stroke="#3a3a3a" stroke-width="0.9" />
<line x1="678.1" y1="142.3" x2="678.1" y2="143.9" stroke="#3a3a3a" stroke-width="0.9" />
<text x="678.1" y="232.6" font-size="9.8" text-anchor="middle" font-weight="normal" font-style="normal" fill="#2a2a2a" >0.6</text>
<line x1="581.2" y1="219.4" x2="582.8" y2="219.4" stroke="#3a3a3a" stroke-width="0.9" />
<line x1="678.1" y1="219.4" x2="676.5" y2="219.4" stroke="#3a3a3a" stroke-width="0.9" />
<text x="577.2" y="222.9" font-size="9.8" text-anchor="end" font-weight="normal" font-style="normal" fill="#2a2a2a" >0</text>
<line x1="581.2" y1="193.7" x2="582.8" y2="193.7" stroke="#3a3a3a" stroke-width="0.9" />
<line x1="678.1" y1="193.7" x2="676.5" y2="193.7" stroke="#3a3a3a" stroke-width="0.9" />
<text x="578.8" y="197.2" font-size="9.8" text-anchor="end" font-weight="normal" font-style="normal" fill="#2a2a2a" >0.2</text>
<line x1="581.2" y1="168" x2="582.8" y2="168" stroke="#3a3a3a" stroke-width="0.9" />
<line x1="678.1" y1="168" x2="676.5" y2="168" stroke="#3a3a3a" stroke-width="0.9" />
<text x="578.8" y="171.5" font-size="9.8" text-anchor="end" font-weight="normal" font-style="normal" fill="#2a2a2a" >0.4</text>
<line x1="581.2" y1="142.3" x2="582.8" y2="142.3" stroke="#3a3a3a" stroke-width="0.9" />
<line x1="678.1" y1="142.3" x2="676.5" y2="142.3" stroke="#3a3a3a" stroke-width="0.9" />
<text x="578.8" y="145.8" font-size="9.8" text-anchor="end" font-weight="normal" font-style="normal" fill="#2a2a2a" >0.6</text>
<text x="0" y="0" font-size="8.67" fill="#2a2a2a" transform="translate(555.6,201.44) rotate(-90)">Probability</text>
<text x="580.18" y="247.1" font-size="9.05" text-anchor="start" font-weight="normal" font-style="normal" fill="#2a2a2a" textLength="104.6" lengthAdjust="spacingAndGlyphs">Fractional change in length</text>
<text x="674.9" y="151.8" font-size="7.75" text-anchor="end" font-weight="normal" font-style="normal" fill="#2a2a2a" ><tspan font-style="italic">N</tspan> = 30</text>
<text x="674.9" y="161.3" font-size="7.75" text-anchor="end" font-weight="normal" font-style="normal" fill="#2a2a2a" >Mean = 0.17</text>
<text x="674.9" y="170" font-size="7.75" text-anchor="end" font-weight="normal" font-style="normal" fill="#2a2a2a" >STD = 0.08</text>
<text x="-0.96" y="280.8" font-size="11.6" text-anchor="start" font-weight="bold" font-style="normal" fill="#000" textLength="8.23" lengthAdjust="spacingAndGlyphs">d</text>
<text x="88.53" y="292.85" font-size="8.97" text-anchor="start" font-weight="bold" font-style="normal" fill="#111" >Solute number</text>
<text x="0" y="0" font-size="8.69" fill="#2a2a2a" transform="translate(16.1,426) rotate(-90)">Fraction of initial solutes remaining</text>
<text x="49.62" y="443.7" font-size="9.06" text-anchor="start" font-weight="normal" font-style="normal" fill="#2a2a2a" textLength="135.73" lengthAdjust="spacingAndGlyphs">Time after nanodefect formation (s)</text>
<rect x="43.3" y="299.2" width="151.2" height="116.5" fill="none" stroke="#3a3a3a" stroke-width="0.9"/>
<line x1="43.3" y1="415.7" x2="43.3" y2="414.1" stroke="#3a3a3a" stroke-width="0.9" />
<line x1="43.3" y1="299.2" x2="43.3" y2="300.8" stroke="#3a3a3a" stroke-width="0.9" />
<text x="42.9" y="428.4" font-size="9.2" text-anchor="middle" font-weight="normal" font-style="normal" fill="#2a2a2a" >0</text>
<line x1="93.7" y1="415.7" x2="93.7" y2="414.1" stroke="#3a3a3a" stroke-width="0.9" />
<line x1="93.7" y1="299.2" x2="93.7" y2="300.8" stroke="#3a3a3a" stroke-width="0.9" />
<text x="93.7" y="428.4" font-size="9.2" text-anchor="middle" font-weight="normal" font-style="normal" fill="#2a2a2a" >600</text>
<line x1="144.1" y1="415.7" x2="144.1" y2="414.1" stroke="#3a3a3a" stroke-width="0.9" />
<line x1="144.1" y1="299.2" x2="144.1" y2="300.8" stroke="#3a3a3a" stroke-width="0.9" />
<text x="144.1" y="428.4" font-size="9.2" text-anchor="middle" font-weight="normal" font-style="normal" fill="#2a2a2a" >1200</text>
<line x1="194.5" y1="415.7" x2="194.5" y2="414.1" stroke="#3a3a3a" stroke-width="0.9" />
<line x1="194.5" y1="299.2" x2="194.5" y2="300.8" stroke="#3a3a3a" stroke-width="0.9" />
<text x="194.5" y="428.4" font-size="9.2" text-anchor="middle" font-weight="normal" font-style="normal" fill="#2a2a2a" >1800</text>
<line x1="43.3" y1="415.7" x2="44.9" y2="415.7" stroke="#3a3a3a" stroke-width="0.9" />
<line x1="194.5" y1="415.7" x2="192.9" y2="415.7" stroke="#3a3a3a" stroke-width="0.9" />
<text x="35.5" y="418" font-size="9.2" text-anchor="end" font-weight="normal" font-style="normal" fill="#2a2a2a" >0</text>
<line x1="43.3" y1="392.4" x2="44.9" y2="392.4" stroke="#3a3a3a" stroke-width="0.9" />
<line x1="194.5" y1="392.4" x2="192.9" y2="392.4" stroke="#3a3a3a" stroke-width="0.9" />
<text x="38.3" y="394.7" font-size="9.2" text-anchor="end" font-weight="normal" font-style="normal" fill="#2a2a2a" >0.2</text>
<line x1="43.3" y1="369.1" x2="44.9" y2="369.1" stroke="#3a3a3a" stroke-width="0.9" />
<line x1="194.5" y1="369.1" x2="192.9" y2="369.1" stroke="#3a3a3a" stroke-width="0.9" />
<text x="38.3" y="371.4" font-size="9.2" text-anchor="end" font-weight="normal" font-style="normal" fill="#2a2a2a" >0.4</text>
<line x1="43.3" y1="345.8" x2="44.9" y2="345.8" stroke="#3a3a3a" stroke-width="0.9" />
<line x1="194.5" y1="345.8" x2="192.9" y2="345.8" stroke="#3a3a3a" stroke-width="0.9" />
<text x="38.3" y="348.1" font-size="9.2" text-anchor="end" font-weight="normal" font-style="normal" fill="#2a2a2a" >0.6</text>
<line x1="43.3" y1="322.5" x2="44.9" y2="322.5" stroke="#3a3a3a" stroke-width="0.9" />
<line x1="194.5" y1="322.5" x2="192.9" y2="322.5" stroke="#3a3a3a" stroke-width="0.9" />
<text x="38.3" y="324.8" font-size="9.2" text-anchor="end" font-weight="normal" font-style="normal" fill="#2a2a2a" >0.8</text>
<line x1="43.3" y1="299.2" x2="44.9" y2="299.2" stroke="#3a3a3a" stroke-width="0.9" />
<line x1="194.5" y1="299.2" x2="192.9" y2="299.2" stroke="#3a3a3a" stroke-width="0.9" />
<text x="38.3" y="301.5" font-size="9.2" text-anchor="end" font-weight="normal" font-style="normal" fill="#2a2a2a" >1.0</text>
<polyline points="43.3,299.2 43.32,299.43 43.35,299.89 43.4,300.52 43.45,301.28 43.52,302.15 43.59,303.12 43.67,304.18 43.76,305.31 43.85,306.5 43.95,307.76 44.06,309.06 44.18,310.41 44.3,311.79 44.42,313.21 44.55,314.65 44.69,316.12 44.83,317.6 44.98,319.09 45.13,320.59 45.29,322.1 45.45,323.61 45.61,325.12 45.78,326.63 45.96,328.13 46.14,329.63 46.32,331.11 46.51,332.59 46.7,334.05 46.9,335.49 47.1,336.93 47.3,338.34 47.51,339.74 47.72,341.11 47.94,342.47 48.16,343.81 48.38,345.13 48.61,346.43 48.84,347.71 49.08,348.96 49.32,350.19 49.56,351.41 49.81,352.6 50.06,353.76 50.31,354.91 50.57,356.04 50.83,357.14 51.09,358.22 51.36,359.28 51.63,360.32 51.9,361.34 52.18,362.33 52.46,363.31 52.74,364.27 53.03,365.2 53.32,366.12 53.61,367.02 53.91,367.9 54.21,368.76 54.51,369.6 54.81,370.42 55.12,371.23 55.43,372.02 55.75,372.79 56.07,373.54 56.39,374.28 56.71,375.01 57.04,375.71 57.37,376.41 57.7,377.08 58.03,377.75 58.37,378.4 58.71,379.03 59.06,379.65 59.4,380.26 59.75,380.85 60.11,381.43 60.46,382 60.82,382.56 61.18,383.11 61.54,383.64 61.91,384.16 62.28,384.67 62.65,385.17 63.02,385.66 63.4,386.14 63.78,386.61 64.16,387.07 64.55,387.52 64.94,387.97 65.33,388.4 65.72,388.82 66.11,389.23 66.51,389.64 66.91,390.04 67.32,390.43 67.72,390.81 68.13,391.18 68.54,391.55 68.96,391.91 69.37,392.26 69.79,392.6 70.21,392.94 70.63,393.27 71.06,393.6 71.49,393.92 71.92,394.23 72.35,394.53 72.79,394.83 73.23,395.13 73.67,395.42 74.11,395.7 74.55,395.98 75,396.25 75.45,396.52 75.9,396.78 76.36,397.04 76.82,397.29 77.28,397.54 77.74,397.78 78.2,398.02 78.67,398.26 79.14,398.49 79.61,398.71 80.08,398.93 80.56,399.15 81.04,399.36 81.52,399.58 82,399.78 82.48,399.98 82.97,400.18 83.46,400.38 83.95,400.57 84.45,400.76 84.94,400.95 85.44,401.13 85.94,401.31 86.44,401.48 86.95,401.66 87.46,401.83 87.96,401.99 88.48,402.16 88.99,402.32 89.51,402.48 90.02,402.64 90.54,402.79 91.07,402.94 91.59,403.09 92.12,403.24 92.65,403.38 93.18,403.52 93.71,403.66 94.25,403.8 94.78,403.93 95.32,404.07 95.86,404.2 96.41,404.33 96.95,404.45 97.5,404.58 98.05,404.7 98.6,404.82 99.16,404.94 99.71,405.06 100.27,405.17 100.83,405.29 101.39,405.4 101.96,405.51 102.52,405.62 103.09,405.72 103.66,405.83 104.24,405.93 104.81,406.03 105.39,406.13 105.97,406.23 106.55,406.33 107.13,406.43 107.71,406.52 108.3,406.61 108.89,406.71 109.48,406.8 110.07,406.89 110.67,406.98 111.26,407.06 111.86,407.15 112.46,407.23 113.06,407.32 113.67,407.4 114.27,407.48 114.88,407.56 115.49,407.64 116.11,407.71 116.72,407.79 117.34,407.87 117.95,407.94 118.57,408.02 119.19,408.09 119.82,408.16 120.44,408.23 121.07,408.3 121.7,408.37 122.33,408.44 122.97,408.5 123.6,408.57 124.24,408.63 124.88,408.7 125.52,408.76 126.16,408.82 126.8,408.89 127.45,408.95 128.1,409.01 128.75,409.07 129.4,409.13 130.06,409.18 130.71,409.24 131.37,409.3 132.03,409.35 132.69,409.41 133.35,409.46 134.02,409.52 134.68,409.57 135.35,409.62 136.02,409.67 136.69,409.73 137.37,409.78 138.04,409.83 138.72,409.88 139.4,409.92 140.08,409.97 140.77,410.02 141.45,410.07 142.14,410.11 142.83,410.16 143.52,410.2 144.21,410.25 144.9,410.29 145.6,410.34 146.3,410.38 146.99,410.42 147.7,410.47 148.4,410.51 149.1,410.55 149.81,410.59 150.52,410.63 151.23,410.67 151.94,410.71 152.65,410.75 153.37,410.79 154.08,410.83 154.8,410.86 155.52,410.9 156.24,410.94 156.97,410.97 157.69,411.01 158.42,411.05 159.15,411.08 159.88,411.12 160.61,411.15 161.35,411.18 162.08,411.22 162.82,411.25 163.56,411.28 164.3,411.32 165.04,411.35 165.79,411.38 166.53,411.41 167.28,411.44 168.03,411.48 168.78,411.51 169.53,411.54 170.29,411.57 171.04,411.6 171.8,411.63 172.56,411.65 173.32,411.68 174.09,411.71 174.85,411.74 175.62,411.77 176.38,411.8 177.15,411.82 177.92,411.85 178.7,411.88 179.47,411.9 180.25,411.93 181.03,411.96 181.81,411.98 182.59,412.01 183.37,412.03 184.15,412.06 184.94,412.08 185.73,412.11 186.52,412.13 187.31,412.16 188.1,412.18 188.89,412.2 189.69,412.23 190.49,412.25 191.29,412.27 192.09,412.29 192.89,412.32 193.69,412.34 194.5,412.36" fill="none" stroke="#2479c2" stroke-width="1.95" stroke-linejoin="round" stroke-linecap="round" />
<rect x="108.6" y="309.4" width="71.9" height="55.3" fill="#fff"/>
<rect x="108.6" y="309.4" width="71.9" height="55.3" fill="none" stroke="#3a3a3a" stroke-width="0.9"/>
<line x1="108.6" y1="364.7" x2="108.6" y2="363.4" stroke="#3a3a3a" stroke-width="0.9" />
<line x1="108.6" y1="309.4" x2="108.6" y2="310.7" stroke="#3a3a3a" stroke-width="0.9" />
<text x="106.5" y="373.5" font-size="8.6" text-anchor="middle" font-weight="normal" font-style="normal" fill="#2a2a2a" >0</text>
<line x1="132.57" y1="364.7" x2="132.57" y2="363.4" stroke="#3a3a3a" stroke-width="0.9" />
<line x1="132.57" y1="309.4" x2="132.57" y2="310.7" stroke="#3a3a3a" stroke-width="0.9" />
<text x="132.57" y="373.5" font-size="8.6" text-anchor="middle" font-weight="normal" font-style="normal" fill="#2a2a2a" >100</text>
<line x1="156.53" y1="364.7" x2="156.53" y2="363.4" stroke="#3a3a3a" stroke-width="0.9" />
<line x1="156.53" y1="309.4" x2="156.53" y2="310.7" stroke="#3a3a3a" stroke-width="0.9" />
<text x="156.53" y="373.5" font-size="8.6" text-anchor="middle" font-weight="normal" font-style="normal" fill="#2a2a2a" >200</text>
<line x1="180.5" y1="364.7" x2="180.5" y2="363.4" stroke="#3a3a3a" stroke-width="0.9" />
<line x1="180.5" y1="309.4" x2="180.5" y2="310.7" stroke="#3a3a3a" stroke-width="0.9" />
<text x="180.5" y="373.5" font-size="8.6" text-anchor="middle" font-weight="normal" font-style="normal" fill="#2a2a2a" >300</text>
<line x1="108.6" y1="364.7" x2="109.9" y2="364.7" stroke="#3a3a3a" stroke-width="0.9" />
<line x1="180.5" y1="364.7" x2="179.2" y2="364.7" stroke="#3a3a3a" stroke-width="0.9" />
<text x="102.8" y="366.2" font-size="8.6" text-anchor="end" font-weight="normal" font-style="normal" fill="#2a2a2a" >0</text>
<line x1="108.6" y1="353.64" x2="109.9" y2="353.64" stroke="#3a3a3a" stroke-width="0.9" />
<line x1="180.5" y1="353.64" x2="179.2" y2="353.64" stroke="#3a3a3a" stroke-width="0.9" />
<text x="106.6" y="355.14" font-size="8.6" text-anchor="end" font-weight="normal" font-style="normal" fill="#2a2a2a" >0.2</text>
<line x1="108.6" y1="342.58" x2="109.9" y2="342.58" stroke="#3a3a3a" stroke-width="0.9" />
<line x1="180.5" y1="342.58" x2="179.2" y2="342.58" stroke="#3a3a3a" stroke-width="0.9" />
<text x="106.6" y="344.08" font-size="8.6" text-anchor="end" font-weight="normal" font-style="normal" fill="#2a2a2a" >0.4</text>
<line x1="108.6" y1="331.52" x2="109.9" y2="331.52" stroke="#3a3a3a" stroke-width="0.9" />
<line x1="180.5" y1="331.52" x2="179.2" y2="331.52" stroke="#3a3a3a" stroke-width="0.9" />
<text x="106.6" y="333.02" font-size="8.6" text-anchor="end" font-weight="normal" font-style="normal" fill="#2a2a2a" >0.6</text>
<line x1="108.6" y1="320.46" x2="109.9" y2="320.46" stroke="#3a3a3a" stroke-width="0.9" />
<line x1="180.5" y1="320.46" x2="179.2" y2="320.46" stroke="#3a3a3a" stroke-width="0.9" />
<text x="106.6" y="321.96" font-size="8.6" text-anchor="end" font-weight="normal" font-style="normal" fill="#2a2a2a" >0.8</text>
<line x1="108.6" y1="309.4" x2="109.9" y2="309.4" stroke="#3a3a3a" stroke-width="0.9" />
<line x1="180.5" y1="309.4" x2="179.2" y2="309.4" stroke="#3a3a3a" stroke-width="0.9" />
<text x="106.6" y="310.9" font-size="8.6" text-anchor="end" font-weight="normal" font-style="normal" fill="#2a2a2a" >1.0</text>
<polyline points="108.6,309.4 108.61,309.41 108.62,309.44 108.65,309.48 108.67,309.53 108.7,309.59 108.74,309.65 108.78,309.72 108.82,309.8 108.86,309.88 108.91,309.97 108.96,310.06 109.02,310.16 109.07,310.27 109.13,310.37 109.2,310.48 109.26,310.6 109.33,310.72 109.4,310.84 109.47,310.97 109.54,311.1 109.62,311.24 109.7,311.37 109.78,311.51 109.86,311.66 109.95,311.81 110.04,311.95 110.13,312.11 110.22,312.26 110.31,312.42 110.41,312.58 110.5,312.74 110.6,312.91 110.7,313.07 110.81,313.24 110.91,313.41 111.02,313.59 111.13,313.76 111.24,313.94 111.35,314.12 111.46,314.3 111.58,314.48 111.69,314.66 111.81,314.84 111.93,315.03 112.06,315.22 112.18,315.41 112.3,315.6 112.43,315.79 112.56,315.98 112.69,316.17 112.82,316.37 112.95,316.56 113.09,316.76 113.23,316.95 113.36,317.15 113.5,317.35 113.64,317.55 113.79,317.75 113.93,317.95 114.07,318.15 114.22,318.35 114.37,318.55 114.52,318.76 114.67,318.96 114.82,319.16 114.98,319.36 115.13,319.57 115.29,319.77 115.45,319.98 115.61,320.18 115.77,320.38 115.93,320.59 116.09,320.79 116.26,321 116.42,321.2 116.59,321.41 116.76,321.61 116.93,321.82 117.1,322.02 117.28,322.22 117.45,322.43 117.62,322.63 117.8,322.84 117.98,323.04 118.16,323.24 118.34,323.45 118.52,323.65 118.7,323.85 118.89,324.05 119.07,324.25 119.26,324.45 119.45,324.66 119.64,324.86 119.83,325.06 120.02,325.26 120.21,325.45 120.41,325.65 120.6,325.85 120.8,326.05 121,326.25 121.2,326.44 121.4,326.64 121.6,326.83 121.8,327.03 122,327.22 122.21,327.41 122.41,327.61 122.62,327.8 122.83,327.99 123.04,328.18 123.25,328.37 123.46,328.56 123.68,328.75 123.89,328.94 124.1,329.13 124.32,329.31 124.54,329.5 124.76,329.68 124.98,329.87 125.2,330.05 125.42,330.24 125.64,330.42 125.87,330.6 126.09,330.78 126.32,330.96 126.54,331.14 126.77,331.32 127,331.49 127.23,331.67 127.46,331.85 127.7,332.02 127.93,332.2 128.17,332.37 128.4,332.54 128.64,332.71 128.88,332.89 129.12,333.06 129.36,333.23 129.6,333.39 129.84,333.56 130.08,333.73 130.33,333.9 130.57,334.06 130.82,334.23 131.07,334.39 131.31,334.55 131.56,334.71 131.81,334.87 132.07,335.03 132.32,335.19 132.57,335.35 132.83,335.51 133.08,335.67 133.34,335.82 133.6,335.98 133.85,336.13 134.11,336.29 134.37,336.44 134.64,336.59 134.9,336.74 135.16,336.89 135.43,337.04 135.69,337.19 135.96,337.34 136.23,337.49 136.49,337.63 136.76,337.78 137.03,337.92 137.3,338.06 137.58,338.21 137.85,338.35 138.12,338.49 138.4,338.63 138.68,338.77 138.95,338.91 139.23,339.05 139.51,339.18 139.79,339.32 140.07,339.46 140.35,339.59 140.63,339.73 140.92,339.86 141.2,339.99 141.49,340.12 141.77,340.25 142.06,340.38 142.35,340.51 142.64,340.64 142.93,340.77 143.22,340.9 143.51,341.02 143.81,341.15 144.1,341.27 144.39,341.4 144.69,341.52 144.99,341.64 145.28,341.76 145.58,341.89 145.88,342.01 146.18,342.13 146.48,342.24 146.79,342.36 147.09,342.48 147.39,342.6 147.7,342.71 148,342.83 148.31,342.94 148.62,343.06 148.92,343.17 149.23,343.28 149.54,343.39 149.85,343.5 150.17,343.62 150.48,343.73 150.79,343.83 151.11,343.94 151.42,344.05 151.74,344.16 152.06,344.26 152.37,344.37 152.69,344.47 153.01,344.58 153.33,344.68 153.65,344.79 153.98,344.89 154.3,344.99 154.62,345.09 154.95,345.19 155.27,345.29 155.6,345.39 155.93,345.49 156.26,345.59 156.58,345.69 156.91,345.78 157.25,345.88 157.58,345.98 157.91,346.07 158.24,346.17 158.58,346.26 158.91,346.35 159.25,346.45 159.58,346.54 159.92,346.63 160.26,346.72 160.6,346.81 160.94,346.9 161.28,346.99 161.62,347.08 161.96,347.17 162.31,347.25 162.65,347.34 163,347.43 163.34,347.51 163.69,347.6 164.04,347.69 164.39,347.77 164.73,347.85 165.08,347.94 165.43,348.02 165.79,348.1 166.14,348.19 166.49,348.27 166.85,348.35 167.2,348.43 167.56,348.51 167.91,348.59 168.27,348.67 168.63,348.74 168.99,348.82 169.35,348.9 169.71,348.98 170.07,349.05 170.43,349.13 170.79,349.21 171.16,349.28 171.52,349.36 171.89,349.43 172.25,349.5 172.62,349.58 172.99,349.65 173.35,349.72 173.72,349.79 174.09,349.87 174.46,349.94 174.83,350.01 175.21,350.08 175.58,350.15 175.95,350.22 176.33,350.29 176.7,350.35 177.08,350.42 177.46,350.49 177.83,350.56 178.21,350.62 178.59,350.69 178.97,350.76 179.35,350.82 179.73,350.89 180.12,350.95 180.5,351.02" fill="none" stroke="#2479c2" stroke-width="1.8" stroke-linejoin="round" stroke-linecap="round" />
<text x="220.84" y="280.8" font-size="11.6" text-anchor="start" font-weight="bold" font-style="normal" fill="#000" textLength="7.73" lengthAdjust="spacingAndGlyphs">e</text>
<text x="302.61" y="293.1" font-size="8.87" text-anchor="start" font-weight="bold" font-style="normal" fill="#111" >Turgor pressure</text>
<text x="0" y="0" font-size="8.65" fill="#2a2a2a" transform="translate(234.4,423.59) rotate(-90)">Fraction of initial turgor remaining</text>
<text x="270.32" y="443.7" font-size="9.09" text-anchor="start" font-weight="normal" font-style="normal" fill="#2a2a2a" textLength="136.24" lengthAdjust="spacingAndGlyphs">Time after nanodefect formation (s)</text>
<rect x="262" y="299.1" width="150.8" height="116.4" fill="none" stroke="#3a3a3a" stroke-width="0.9"/>
<line x1="262" y1="415.5" x2="262" y2="413.9" stroke="#3a3a3a" stroke-width="0.9" />
<line x1="262" y1="299.1" x2="262" y2="300.7" stroke="#3a3a3a" stroke-width="0.9" />
<text x="261.6" y="428.2" font-size="9.2" text-anchor="middle" font-weight="normal" font-style="normal" fill="#2a2a2a" >0</text>
<line x1="312.27" y1="415.5" x2="312.27" y2="413.9" stroke="#3a3a3a" stroke-width="0.9" />
<line x1="312.27" y1="299.1" x2="312.27" y2="300.7" stroke="#3a3a3a" stroke-width="0.9" />
<text x="312.27" y="428.2" font-size="9.2" text-anchor="middle" font-weight="normal" font-style="normal" fill="#2a2a2a" >600</text>
<line x1="362.53" y1="415.5" x2="362.53" y2="413.9" stroke="#3a3a3a" stroke-width="0.9" />
<line x1="362.53" y1="299.1" x2="362.53" y2="300.7" stroke="#3a3a3a" stroke-width="0.9" />
<text x="362.53" y="428.2" font-size="9.2" text-anchor="middle" font-weight="normal" font-style="normal" fill="#2a2a2a" >1200</text>
<line x1="412.8" y1="415.5" x2="412.8" y2="413.9" stroke="#3a3a3a" stroke-width="0.9" />
<line x1="412.8" y1="299.1" x2="412.8" y2="300.7" stroke="#3a3a3a" stroke-width="0.9" />
<text x="412.8" y="428.2" font-size="9.2" text-anchor="middle" font-weight="normal" font-style="normal" fill="#2a2a2a" >1800</text>
<line x1="262" y1="415.5" x2="263.6" y2="415.5" stroke="#3a3a3a" stroke-width="0.9" />
<line x1="412.8" y1="415.5" x2="411.2" y2="415.5" stroke="#3a3a3a" stroke-width="0.9" />
<text x="254.2" y="417.8" font-size="9.2" text-anchor="end" font-weight="normal" font-style="normal" fill="#2a2a2a" >0</text>
<line x1="262" y1="392.22" x2="263.6" y2="392.22" stroke="#3a3a3a" stroke-width="0.9" />
<line x1="412.8" y1="392.22" x2="411.2" y2="392.22" stroke="#3a3a3a" stroke-width="0.9" />
<text x="257" y="394.52" font-size="9.2" text-anchor="end" font-weight="normal" font-style="normal" fill="#2a2a2a" >0.2</text>
<line x1="262" y1="368.94" x2="263.6" y2="368.94" stroke="#3a3a3a" stroke-width="0.9" />
<line x1="412.8" y1="368.94" x2="411.2" y2="368.94" stroke="#3a3a3a" stroke-width="0.9" />
<text x="257" y="371.24" font-size="9.2" text-anchor="end" font-weight="normal" font-style="normal" fill="#2a2a2a" >0.4</text>
<line x1="262" y1="345.66" x2="263.6" y2="345.66" stroke="#3a3a3a" stroke-width="0.9" />
<line x1="412.8" y1="345.66" x2="411.2" y2="345.66" stroke="#3a3a3a" stroke-width="0.9" />
<text x="257" y="347.96" font-size="9.2" text-anchor="end" font-weight="normal" font-style="normal" fill="#2a2a2a" >0.6</text>
<line x1="262" y1="322.38" x2="263.6" y2="322.38" stroke="#3a3a3a" stroke-width="0.9" />
<line x1="412.8" y1="322.38" x2="411.2" y2="322.38" stroke="#3a3a3a" stroke-width="0.9" />
<text x="257" y="324.68" font-size="9.2" text-anchor="end" font-weight="normal" font-style="normal" fill="#2a2a2a" >0.8</text>
<line x1="262" y1="299.1" x2="263.6" y2="299.1" stroke="#3a3a3a" stroke-width="0.9" />
<line x1="412.8" y1="299.1" x2="411.2" y2="299.1" stroke="#3a3a3a" stroke-width="0.9" />
<text x="257" y="301.4" font-size="9.2" text-anchor="end" font-weight="normal" font-style="normal" fill="#2a2a2a" >1.0</text>
<polyline points="262,299.1 262.02,299.25 262.05,299.54 262.1,299.95 262.15,300.44 262.22,301.01 262.29,301.64 262.37,302.34 262.46,303.09 262.55,303.89 262.65,304.74 262.76,305.62 262.87,306.55 262.99,307.51 263.12,308.51 263.25,309.53 263.39,310.58 263.53,311.65 263.67,312.74 263.82,313.85 263.98,314.98 264.14,316.12 264.31,317.28 264.48,318.44 264.65,319.62 264.83,320.8 265.01,321.99 265.2,323.18 265.39,324.37 265.59,325.57 265.79,326.76 265.99,327.96 266.2,329.15 266.41,330.34 266.63,331.53 266.85,332.71 267.07,333.89 267.3,335.05 267.53,336.22 267.76,337.37 268,338.51 268.24,339.65 268.49,340.77 268.74,341.89 268.99,342.99 269.25,344.09 269.51,345.17 269.77,346.24 270.04,347.29 270.3,348.34 270.58,349.37 270.85,350.39 271.13,351.4 271.42,352.39 271.7,353.37 271.99,354.33 272.28,355.28 272.58,356.22 272.88,357.15 273.18,358.06 273.48,358.95 273.79,359.84 274.1,360.71 274.42,361.56 274.73,362.4 275.05,363.23 275.37,364.05 275.7,364.85 276.03,365.63 276.36,366.41 276.69,367.17 277.03,367.92 277.37,368.65 277.72,369.37 278.06,370.08 278.41,370.78 278.76,371.47 279.12,372.14 279.47,372.8 279.83,373.44 280.19,374.08 280.56,374.71 280.93,375.32 281.3,375.92 281.67,376.51 282.05,377.09 282.43,377.66 282.81,378.22 283.19,378.76 283.58,379.3 283.97,379.83 284.36,380.34 284.75,380.85 285.15,381.35 285.55,381.84 285.95,382.31 286.36,382.78 286.77,383.24 287.17,383.69 287.59,384.14 288,384.57 288.42,385 288.84,385.41 289.26,385.82 289.69,386.23 290.11,386.62 290.54,387 290.97,387.38 291.41,387.75 291.85,388.12 292.29,388.48 292.73,388.83 293.17,389.17 293.62,389.5 294.07,389.83 294.52,390.16 294.97,390.48 295.43,390.79 295.89,391.09 296.35,391.39 296.81,391.68 297.27,391.97 297.74,392.25 298.21,392.53 298.68,392.8 299.16,393.07 299.64,393.33 300.11,393.59 300.6,393.84 301.08,394.08 301.57,394.32 302.05,394.56 302.54,394.79 303.04,395.02 303.53,395.24 304.03,395.46 304.53,395.68 305.03,395.89 305.53,396.1 306.04,396.3 306.55,396.5 307.06,396.7 307.57,396.89 308.08,397.08 308.6,397.26 309.12,397.44 309.64,397.62 310.16,397.79 310.69,397.96 311.22,398.13 311.75,398.3 312.28,398.46 312.81,398.62 313.35,398.77 313.88,398.93 314.42,399.08 314.97,399.23 315.51,399.37 316.06,399.51 316.61,399.65 317.16,399.79 317.71,399.92 318.26,400.06 318.82,400.18 319.38,400.31 319.94,400.44 320.5,400.56 321.07,400.68 321.64,400.8 322.2,400.92 322.78,401.03 323.35,401.14 323.92,401.25 324.5,401.36 325.08,401.47 325.66,401.57 326.24,401.67 326.83,401.77 327.42,401.87 328,401.97 328.6,402.07 329.19,402.16 329.78,402.25 330.38,402.34 330.98,402.43 331.58,402.52 332.18,402.61 332.79,402.69 333.39,402.77 334,402.86 334.61,402.94 335.23,403.01 335.84,403.09 336.46,403.17 337.07,403.24 337.69,403.32 338.32,403.39 338.94,403.46 339.57,403.53 340.19,403.6 340.82,403.67 341.45,403.74 342.09,403.8 342.72,403.87 343.36,403.93 344,403.99 344.64,404.05 345.28,404.11 345.93,404.17 346.57,404.23 347.22,404.29 347.87,404.34 348.53,404.4 349.18,404.46 349.84,404.51 350.49,404.56 351.15,404.61 351.81,404.67 352.48,404.72 353.14,404.77 353.81,404.81 354.48,404.86 355.15,404.91 355.82,404.96 356.49,405 357.17,405.05 357.85,405.09 358.53,405.14 359.21,405.18 359.89,405.22 360.58,405.26 361.26,405.3 361.95,405.35 362.64,405.39 363.33,405.42 364.03,405.46 364.72,405.5 365.42,405.54 366.12,405.58 366.82,405.61 367.52,405.65 368.23,405.68 368.93,405.72 369.64,405.75 370.35,405.79 371.06,405.82 371.78,405.85 372.49,405.88 373.21,405.92 373.92,405.95 374.64,405.98 375.37,406.01 376.09,406.04 376.82,406.07 377.54,406.1 378.27,406.13 379,406.15 379.73,406.18 380.47,406.21 381.2,406.24 381.94,406.26 382.68,406.29 383.42,406.32 384.16,406.34 384.91,406.37 385.65,406.39 386.4,406.42 387.15,406.44 387.9,406.46 388.65,406.49 389.41,406.51 390.16,406.53 390.92,406.56 391.68,406.58 392.44,406.6 393.2,406.62 393.97,406.64 394.73,406.66 395.5,406.68 396.27,406.7 397.04,406.72 397.81,406.74 398.59,406.76 399.36,406.78 400.14,406.8 400.92,406.82 401.7,406.84 402.48,406.86 403.27,406.88 404.05,406.89 404.84,406.91 405.63,406.93 406.42,406.95 407.21,406.96 408,406.98 408.8,407 409.6,407.01 410.39,407.03 411.19,407.04 412,407.06 412.8,407.08" fill="none" stroke="#6a2e9f" stroke-width="1.95" stroke-linejoin="round" stroke-linecap="round" />
<rect x="325.6" y="310.2" width="71.9" height="54.5" fill="#fff"/>
<rect x="325.6" y="310.2" width="71.9" height="54.5" fill="none" stroke="#3a3a3a" stroke-width="0.9"/>
<line x1="325.6" y1="364.7" x2="325.6" y2="363.4" stroke="#3a3a3a" stroke-width="0.9" />
<line x1="325.6" y1="310.2" x2="325.6" y2="311.5" stroke="#3a3a3a" stroke-width="0.9" />
<text x="323.5" y="373.5" font-size="8.6" text-anchor="middle" font-weight="normal" font-style="normal" fill="#2a2a2a" >0</text>
<line x1="349.57" y1="364.7" x2="349.57" y2="363.4" stroke="#3a3a3a" stroke-width="0.9" />
<line x1="349.57" y1="310.2" x2="349.57" y2="311.5" stroke="#3a3a3a" stroke-width="0.9" />
<text x="349.57" y="373.5" font-size="8.6" text-anchor="middle" font-weight="normal" font-style="normal" fill="#2a2a2a" >100</text>
<line x1="373.53" y1="364.7" x2="373.53" y2="363.4" stroke="#3a3a3a" stroke-width="0.9" />
<line x1="373.53" y1="310.2" x2="373.53" y2="311.5" stroke="#3a3a3a" stroke-width="0.9" />
<text x="373.53" y="373.5" font-size="8.6" text-anchor="middle" font-weight="normal" font-style="normal" fill="#2a2a2a" >200</text>
<line x1="397.5" y1="364.7" x2="397.5" y2="363.4" stroke="#3a3a3a" stroke-width="0.9" />
<line x1="397.5" y1="310.2" x2="397.5" y2="311.5" stroke="#3a3a3a" stroke-width="0.9" />
<text x="397.5" y="373.5" font-size="8.6" text-anchor="middle" font-weight="normal" font-style="normal" fill="#2a2a2a" >300</text>
<line x1="325.6" y1="364.7" x2="326.9" y2="364.7" stroke="#3a3a3a" stroke-width="0.9" />
<line x1="397.5" y1="364.7" x2="396.2" y2="364.7" stroke="#3a3a3a" stroke-width="0.9" />
<text x="319.8" y="366.2" font-size="8.6" text-anchor="end" font-weight="normal" font-style="normal" fill="#2a2a2a" >0</text>
<line x1="325.6" y1="353.8" x2="326.9" y2="353.8" stroke="#3a3a3a" stroke-width="0.9" />
<line x1="397.5" y1="353.8" x2="396.2" y2="353.8" stroke="#3a3a3a" stroke-width="0.9" />
<text x="323.6" y="355.3" font-size="8.6" text-anchor="end" font-weight="normal" font-style="normal" fill="#2a2a2a" >0.2</text>
<line x1="325.6" y1="342.9" x2="326.9" y2="342.9" stroke="#3a3a3a" stroke-width="0.9" />
<line x1="397.5" y1="342.9" x2="396.2" y2="342.9" stroke="#3a3a3a" stroke-width="0.9" />
<text x="323.6" y="344.4" font-size="8.6" text-anchor="end" font-weight="normal" font-style="normal" fill="#2a2a2a" >0.4</text>
<line x1="325.6" y1="332" x2="326.9" y2="332" stroke="#3a3a3a" stroke-width="0.9" />
<line x1="397.5" y1="332" x2="396.2" y2="332" stroke="#3a3a3a" stroke-width="0.9" />
<text x="323.6" y="333.5" font-size="8.6" text-anchor="end" font-weight="normal" font-style="normal" fill="#2a2a2a" >0.6</text>
<line x1="325.6" y1="321.1" x2="326.9" y2="321.1" stroke="#3a3a3a" stroke-width="0.9" />
<line x1="397.5" y1="321.1" x2="396.2" y2="321.1" stroke="#3a3a3a" stroke-width="0.9" />
<text x="323.6" y="322.6" font-size="8.6" text-anchor="end" font-weight="normal" font-style="normal" fill="#2a2a2a" >0.8</text>
<line x1="325.6" y1="310.2" x2="326.9" y2="310.2" stroke="#3a3a3a" stroke-width="0.9" />
<line x1="397.5" y1="310.2" x2="396.2" y2="310.2" stroke="#3a3a3a" stroke-width="0.9" />
<text x="323.6" y="311.7" font-size="8.6" text-anchor="end" font-weight="normal" font-style="normal" fill="#2a2a2a" >1.0</text>
<polyline points="325.6,310.2 325.61,310.21 325.62,310.24 325.65,310.27 325.67,310.32 325.7,310.37 325.74,310.42 325.78,310.48 325.82,310.55 325.86,310.62 325.91,310.7 325.96,310.78 326.02,310.87 326.07,310.96 326.13,311.05 326.2,311.15 326.26,311.25 326.33,311.35 326.4,311.46 326.47,311.57 326.54,311.69 326.62,311.81 326.7,311.93 326.78,312.05 326.86,312.18 326.95,312.3 327.04,312.44 327.13,312.57 327.22,312.71 327.31,312.84 327.41,312.98 327.5,313.13 327.6,313.27 327.7,313.42 327.81,313.57 327.91,313.72 328.02,313.87 328.13,314.02 328.24,314.18 328.35,314.33 328.46,314.49 328.58,314.65 328.69,314.81 328.81,314.98 328.93,315.14 329.06,315.31 329.18,315.47 329.3,315.64 329.43,315.81 329.56,315.98 329.69,316.15 329.82,316.32 329.95,316.49 330.09,316.67 330.23,316.84 330.36,317.02 330.5,317.19 330.64,317.37 330.79,317.55 330.93,317.72 331.07,317.9 331.22,318.08 331.37,318.26 331.52,318.44 331.67,318.62 331.82,318.8 331.98,318.98 332.13,319.16 332.29,319.35 332.45,319.53 332.61,319.71 332.77,319.89 332.93,320.07 333.09,320.26 333.26,320.44 333.42,320.62 333.59,320.81 333.76,320.99 333.93,321.17 334.1,321.35 334.28,321.54 334.45,321.72 334.62,321.9 334.8,322.09 334.98,322.27 335.16,322.45 335.34,322.63 335.52,322.82 335.7,323 335.89,323.18 336.07,323.36 336.26,323.54 336.45,323.72 336.64,323.9 336.83,324.09 337.02,324.27 337.21,324.45 337.41,324.62 337.6,324.8 337.8,324.98 338,325.16 338.2,325.34 338.4,325.52 338.6,325.69 338.8,325.87 339,326.05 339.21,326.22 339.41,326.4 339.62,326.57 339.83,326.75 340.04,326.92 340.25,327.09 340.46,327.27 340.68,327.44 340.89,327.61 341.1,327.78 341.32,327.95 341.54,328.12 341.76,328.29 341.98,328.46 342.2,328.63 342.42,328.8 342.64,328.96 342.87,329.13 343.09,329.3 343.32,329.46 343.54,329.63 343.77,329.79 344,329.95 344.23,330.12 344.46,330.28 344.7,330.44 344.93,330.6 345.17,330.76 345.4,330.92 345.64,331.08 345.88,331.24 346.12,331.39 346.36,331.55 346.6,331.71 346.84,331.86 347.08,332.02 347.33,332.17 347.57,332.32 347.82,332.48 348.07,332.63 348.31,332.78 348.56,332.93 348.81,333.08 349.07,333.23 349.32,333.38 349.57,333.53 349.83,333.67 350.08,333.82 350.34,333.97 350.6,334.11 350.85,334.26 351.11,334.4 351.37,334.54 351.64,334.68 351.9,334.83 352.16,334.97 352.43,335.11 352.69,335.25 352.96,335.39 353.23,335.52 353.49,335.66 353.76,335.8 354.03,335.93 354.3,336.07 354.58,336.2 354.85,336.34 355.12,336.47 355.4,336.6 355.68,336.74 355.95,336.87 356.23,337 356.51,337.13 356.79,337.26 357.07,337.39 357.35,337.51 357.63,337.64 357.92,337.77 358.2,337.89 358.49,338.02 358.77,338.14 359.06,338.27 359.35,338.39 359.64,338.51 359.93,338.64 360.22,338.76 360.51,338.88 360.81,339 361.1,339.12 361.39,339.23 361.69,339.35 361.99,339.47 362.28,339.59 362.58,339.7 362.88,339.82 363.18,339.93 363.48,340.05 363.79,340.16 364.09,340.27 364.39,340.39 364.7,340.5 365,340.61 365.31,340.72 365.62,340.83 365.92,340.94 366.23,341.05 366.54,341.16 366.85,341.26 367.17,341.37 367.48,341.48 367.79,341.58 368.11,341.69 368.42,341.79 368.74,341.9 369.06,342 369.37,342.1 369.69,342.2 370.01,342.31 370.33,342.41 370.65,342.51 370.98,342.61 371.3,342.71 371.62,342.81 371.95,342.9 372.27,343 372.6,343.1 372.93,343.2 373.26,343.29 373.58,343.39 373.91,343.48 374.25,343.58 374.58,343.67 374.91,343.77 375.24,343.86 375.58,343.95 375.91,344.04 376.25,344.13 376.58,344.22 376.92,344.32 377.26,344.4 377.6,344.49 377.94,344.58 378.28,344.67 378.62,344.76 378.96,344.85 379.31,344.93 379.65,345.02 380,345.11 380.34,345.19 380.69,345.28 381.04,345.36 381.39,345.44 381.73,345.53 382.08,345.61 382.43,345.69 382.79,345.78 383.14,345.86 383.49,345.94 383.85,346.02 384.2,346.1 384.56,346.18 384.91,346.26 385.27,346.34 385.63,346.42 385.99,346.49 386.35,346.57 386.71,346.65 387.07,346.73 387.43,346.8 387.79,346.88 388.16,346.95 388.52,347.03 388.89,347.1 389.25,347.18 389.62,347.25 389.99,347.32 390.35,347.4 390.72,347.47 391.09,347.54 391.46,347.61 391.83,347.69 392.21,347.76 392.58,347.83 392.95,347.9 393.33,347.97 393.7,348.04 394.08,348.11 394.46,348.17 394.83,348.24 395.21,348.31 395.59,348.38 395.97,348.45 396.35,348.51 396.73,348.58 397.12,348.64 397.5,348.71" fill="none" stroke="#6a2e9f" stroke-width="1.8" stroke-linejoin="round" stroke-linecap="round" />
<text x="429.23" y="280.8" font-size="11.6" text-anchor="start" font-weight="bold" font-style="normal" fill="#000" textLength="4.55" lengthAdjust="spacingAndGlyphs">f</text>
<text x="519.14" y="292.7" font-size="9.02" text-anchor="start" font-weight="bold" font-style="normal" fill="#111" >Cellular volume</text>
<text x="0" y="0" font-size="8.65" fill="#2a2a2a" transform="translate(450.8,432.59) rotate(-90)">Fraction of initial cell volume remaining</text>
<text x="487.62" y="443.7" font-size="9.09" text-anchor="start" font-weight="normal" font-style="normal" fill="#2a2a2a" textLength="136.24" lengthAdjust="spacingAndGlyphs">Time after nanodefect formation (s)</text>
<rect x="477.6" y="299.2" width="151.4" height="116.5" fill="none" stroke="#3a3a3a" stroke-width="0.9"/>
<line x1="477.6" y1="415.7" x2="477.6" y2="414.1" stroke="#3a3a3a" stroke-width="0.9" />
<line x1="477.6" y1="299.2" x2="477.6" y2="300.8" stroke="#3a3a3a" stroke-width="0.9" />
<text x="477.2" y="428.4" font-size="9.2" text-anchor="middle" font-weight="normal" font-style="normal" fill="#2a2a2a" >0</text>
<line x1="528.07" y1="415.7" x2="528.07" y2="414.1" stroke="#3a3a3a" stroke-width="0.9" />
<line x1="528.07" y1="299.2" x2="528.07" y2="300.8" stroke="#3a3a3a" stroke-width="0.9" />
<text x="528.07" y="428.4" font-size="9.2" text-anchor="middle" font-weight="normal" font-style="normal" fill="#2a2a2a" >600</text>
<line x1="578.53" y1="415.7" x2="578.53" y2="414.1" stroke="#3a3a3a" stroke-width="0.9" />
<line x1="578.53" y1="299.2" x2="578.53" y2="300.8" stroke="#3a3a3a" stroke-width="0.9" />
<text x="578.53" y="428.4" font-size="9.2" text-anchor="middle" font-weight="normal" font-style="normal" fill="#2a2a2a" >1200</text>
<line x1="629" y1="415.7" x2="629" y2="414.1" stroke="#3a3a3a" stroke-width="0.9" />
<line x1="629" y1="299.2" x2="629" y2="300.8" stroke="#3a3a3a" stroke-width="0.9" />
<text x="629" y="428.4" font-size="9.2" text-anchor="middle" font-weight="normal" font-style="normal" fill="#2a2a2a" >1800</text>
<line x1="477.6" y1="415.7" x2="479.2" y2="415.7" stroke="#3a3a3a" stroke-width="0.9" />
<line x1="629" y1="415.7" x2="627.4" y2="415.7" stroke="#3a3a3a" stroke-width="0.9" />
<text x="469.8" y="418" font-size="9.2" text-anchor="end" font-weight="normal" font-style="normal" fill="#2a2a2a" >0</text>
<line x1="477.6" y1="392.4" x2="479.2" y2="392.4" stroke="#3a3a3a" stroke-width="0.9" />
<line x1="629" y1="392.4" x2="627.4" y2="392.4" stroke="#3a3a3a" stroke-width="0.9" />
<text x="472.6" y="394.7" font-size="9.2" text-anchor="end" font-weight="normal" font-style="normal" fill="#2a2a2a" >0.2</text>
<line x1="477.6" y1="369.1" x2="479.2" y2="369.1" stroke="#3a3a3a" stroke-width="0.9" />
<line x1="629" y1="369.1" x2="627.4" y2="369.1" stroke="#3a3a3a" stroke-width="0.9" />
<text x="472.6" y="371.4" font-size="9.2" text-anchor="end" font-weight="normal" font-style="normal" fill="#2a2a2a" >0.4</text>
<line x1="477.6" y1="345.8" x2="479.2" y2="345.8" stroke="#3a3a3a" stroke-width="0.9" />
<line x1="629" y1="345.8" x2="627.4" y2="345.8" stroke="#3a3a3a" stroke-width="0.9" />
<text x="472.6" y="348.1" font-size="9.2" text-anchor="end" font-weight="normal" font-style="normal" fill="#2a2a2a" >0.6</text>
<line x1="477.6" y1="322.5" x2="479.2" y2="322.5" stroke="#3a3a3a" stroke-width="0.9" />
<line x1="629" y1="322.5" x2="627.4" y2="322.5" stroke="#3a3a3a" stroke-width="0.9" />
<text x="472.6" y="324.8" font-size="9.2" text-anchor="end" font-weight="normal" font-style="normal" fill="#2a2a2a" >0.8</text>
<line x1="477.6" y1="299.2" x2="479.2" y2="299.2" stroke="#3a3a3a" stroke-width="0.9" />
<line x1="629" y1="299.2" x2="627.4" y2="299.2" stroke="#3a3a3a" stroke-width="0.9" />
<text x="472.6" y="301.5" font-size="9.2" text-anchor="end" font-weight="normal" font-style="normal" fill="#2a2a2a" >1.0</text>
<polyline points="477.6,299.2 477.62,299.25 477.65,299.35 477.7,299.48 477.75,299.64 477.82,299.82 477.89,300.02 477.97,300.25 478.06,300.49 478.15,300.74 478.26,301.01 478.36,301.29 478.48,301.58 478.6,301.88 478.72,302.18 478.85,302.49 478.99,302.81 479.13,303.14 479.28,303.46 479.43,303.79 479.59,304.13 479.75,304.46 479.92,304.79 480.09,305.13 480.26,305.47 480.44,305.8 480.62,306.13 480.81,306.47 481.01,306.8 481.2,307.13 481.4,307.45 481.61,307.77 481.82,308.09 482.03,308.41 482.25,308.72 482.47,309.03 482.69,309.34 482.92,309.64 483.15,309.94 483.39,310.23 483.63,310.52 483.87,310.8 484.12,311.08 484.37,311.36 484.62,311.63 484.88,311.89 485.14,312.15 485.4,312.41 485.67,312.66 485.94,312.91 486.21,313.15 486.49,313.39 486.77,313.62 487.05,313.85 487.34,314.08 487.63,314.3 487.92,314.51 488.22,314.72 488.52,314.93 488.82,315.13 489.13,315.33 489.44,315.53 489.75,315.72 490.06,315.91 490.38,316.09 490.7,316.27 491.03,316.44 491.35,316.62 491.68,316.78 492.02,316.95 492.35,317.11 492.69,317.27 493.03,317.42 493.38,317.57 493.73,317.72 494.08,317.86 494.43,318.01 494.78,318.14 495.14,318.28 495.5,318.41 495.87,318.54 496.23,318.67 496.6,318.79 496.98,318.92 497.35,319.03 497.73,319.15 498.11,319.26 498.49,319.38 498.88,319.49 499.26,319.59 499.66,319.7 500.05,319.8 500.45,319.9 500.84,320 501.24,320.09 501.65,320.19 502.05,320.28 502.46,320.37 502.88,320.46 503.29,320.55 503.71,320.63 504.12,320.71 504.55,320.8 504.97,320.87 505.4,320.95 505.83,321.03 506.26,321.1 506.69,321.18 507.13,321.25 507.56,321.32 508.01,321.39 508.45,321.46 508.9,321.52 509.34,321.59 509.79,321.65 510.25,321.71 510.7,321.77 511.16,321.83 511.62,321.89 512.08,321.95 512.55,322.01 513.02,322.06 513.48,322.12 513.96,322.17 514.43,322.22 514.91,322.27 515.39,322.32 515.87,322.37 516.35,322.42 516.84,322.47 517.32,322.51 517.81,322.56 518.31,322.61 518.8,322.65 519.3,322.69 519.8,322.73 520.3,322.78 520.8,322.82 521.31,322.86 521.81,322.9 522.32,322.94 522.84,322.97 523.35,323.01 523.87,323.05 524.39,323.08 524.91,323.12 525.43,323.15 525.95,323.19 526.48,323.22 527.01,323.25 527.54,323.29 528.08,323.32 528.61,323.35 529.15,323.38 529.69,323.41 530.23,323.44 530.78,323.47 531.32,323.5 531.87,323.52 532.42,323.55 532.98,323.58 533.53,323.61 534.09,323.63 534.65,323.66 535.21,323.68 535.77,323.71 536.34,323.73 536.9,323.76 537.47,323.78 538.04,323.8 538.62,323.83 539.19,323.85 539.77,323.87 540.35,323.89 540.93,323.91 541.51,323.93 542.1,323.96 542.69,323.98 543.28,324 543.87,324.02 544.46,324.04 545.06,324.05 545.65,324.07 546.25,324.09 546.85,324.11 547.46,324.13 548.06,324.15 548.67,324.16 549.28,324.18 549.89,324.2 550.5,324.22 551.12,324.23 551.73,324.25 552.35,324.26 552.97,324.28 553.6,324.29 554.22,324.31 554.85,324.33 555.47,324.34 556.1,324.35 556.74,324.37 557.37,324.38 558.01,324.4 558.64,324.41 559.28,324.42 559.93,324.44 560.57,324.45 561.22,324.46 561.86,324.48 562.51,324.49 563.16,324.5 563.82,324.51 564.47,324.53 565.13,324.54 565.78,324.55 566.45,324.56 567.11,324.57 567.77,324.58 568.44,324.6 569.1,324.61 569.77,324.62 570.45,324.63 571.12,324.64 571.79,324.65 572.47,324.66 573.15,324.67 573.83,324.68 574.51,324.69 575.2,324.7 575.88,324.71 576.57,324.72 577.26,324.73 577.95,324.74 578.64,324.74 579.34,324.75 580.03,324.76 580.73,324.77 581.43,324.78 582.13,324.79 582.84,324.8 583.54,324.81 584.25,324.81 584.96,324.82 585.67,324.83 586.38,324.84 587.1,324.85 587.81,324.85 588.53,324.86 589.25,324.87 589.97,324.88 590.69,324.88 591.42,324.89 592.14,324.9 592.87,324.9 593.6,324.91 594.33,324.92 595.07,324.92 595.8,324.93 596.54,324.94 597.28,324.94 598.02,324.95 598.76,324.96 599.5,324.96 600.25,324.97 601,324.98 601.74,324.98 602.49,324.99 603.25,324.99 604,325 604.76,325.01 605.51,325.01 606.27,325.02 607.03,325.02 607.79,325.03 608.56,325.03 609.32,325.04 610.09,325.04 610.86,325.05 611.63,325.05 612.4,325.06 613.18,325.06 613.95,325.07 614.73,325.07 615.51,325.08 616.29,325.08 617.07,325.09 617.85,325.09 618.64,325.1 619.43,325.1 620.22,325.11 621.01,325.11 621.8,325.12 622.59,325.12 623.39,325.13 624.18,325.13 624.98,325.13 625.78,325.14 626.58,325.14 627.39,325.15 628.19,325.15 629,325.16" fill="none" stroke="#965e3a" stroke-width="1.95" stroke-linejoin="round" stroke-linecap="round" />
<rect x="498.6" y="339.9" width="118.9" height="59" fill="#fff"/>
<path d="M498.6,339.9 L537.64,353.12 L617.5,356.66 L617.5,373.29 L537.64,369.75 L520.99,356.66 L506.53,344.62 L498.6,340.49 Z" fill="#dfcfd8"/>
<path d="M520.99,356.66 L537.64,364.68 L617.5,366.45 L617.5,373.29 L537.64,369.75 Z" fill="#d6d2e8" opacity="0.55"/>
<rect x="498.6" y="339.9" width="118.9" height="59" fill="none" stroke="#3a3a3a" stroke-width="0.9"/>
<line x1="498.6" y1="398.9" x2="498.6" y2="397.6" stroke="#3a3a3a" stroke-width="0.9" />
<line x1="498.6" y1="339.9" x2="498.6" y2="341.2" stroke="#3a3a3a" stroke-width="0.9" />
<text x="498" y="408.1" font-size="8.6" text-anchor="middle" font-weight="normal" font-style="normal" fill="#2a2a2a" >0</text>
<line x1="538.23" y1="398.9" x2="538.23" y2="397.6" stroke="#3a3a3a" stroke-width="0.9" />
<line x1="538.23" y1="339.9" x2="538.23" y2="341.2" stroke="#3a3a3a" stroke-width="0.9" />
<text x="538.23" y="408.1" font-size="8.6" text-anchor="middle" font-weight="normal" font-style="normal" fill="#2a2a2a" >200</text>
<line x1="577.87" y1="398.9" x2="577.87" y2="397.6" stroke="#3a3a3a" stroke-width="0.9" />
<line x1="577.87" y1="339.9" x2="577.87" y2="341.2" stroke="#3a3a3a" stroke-width="0.9" />
<text x="577.87" y="408.1" font-size="8.6" text-anchor="middle" font-weight="normal" font-style="normal" fill="#2a2a2a" >400</text>
<line x1="617.5" y1="398.9" x2="617.5" y2="397.6" stroke="#3a3a3a" stroke-width="0.9" />
<line x1="617.5" y1="339.9" x2="617.5" y2="341.2" stroke="#3a3a3a" stroke-width="0.9" />
<text x="617.5" y="408.1" font-size="8.6" text-anchor="middle" font-weight="normal" font-style="normal" fill="#2a2a2a" >600</text>
<line x1="498.6" y1="398.9" x2="499.9" y2="398.9" stroke="#3a3a3a" stroke-width="0.9" />
<line x1="617.5" y1="398.9" x2="616.2" y2="398.9" stroke="#3a3a3a" stroke-width="0.9" />
<text x="495.4" y="401.1" font-size="8.6" text-anchor="end" font-weight="normal" font-style="normal" fill="#2a2a2a" >0.5</text>
<line x1="498.6" y1="387.1" x2="499.9" y2="387.1" stroke="#3a3a3a" stroke-width="0.9" />
<line x1="617.5" y1="387.1" x2="616.2" y2="387.1" stroke="#3a3a3a" stroke-width="0.9" />
<text x="495.4" y="389.3" font-size="8.6" text-anchor="end" font-weight="normal" font-style="normal" fill="#2a2a2a" >0.6</text>
<line x1="498.6" y1="375.3" x2="499.9" y2="375.3" stroke="#3a3a3a" stroke-width="0.9" />
<line x1="617.5" y1="375.3" x2="616.2" y2="375.3" stroke="#3a3a3a" stroke-width="0.9" />
<text x="495.4" y="377.5" font-size="8.6" text-anchor="end" font-weight="normal" font-style="normal" fill="#2a2a2a" >0.7</text>
<line x1="498.6" y1="363.5" x2="499.9" y2="363.5" stroke="#3a3a3a" stroke-width="0.9" />
<line x1="617.5" y1="363.5" x2="616.2" y2="363.5" stroke="#3a3a3a" stroke-width="0.9" />
<text x="495.4" y="365.7" font-size="8.6" text-anchor="end" font-weight="normal" font-style="normal" fill="#2a2a2a" >0.8</text>
<line x1="498.6" y1="351.7" x2="499.9" y2="351.7" stroke="#3a3a3a" stroke-width="0.9" />
<line x1="617.5" y1="351.7" x2="616.2" y2="351.7" stroke="#3a3a3a" stroke-width="0.9" />
<text x="495.4" y="353.9" font-size="8.6" text-anchor="end" font-weight="normal" font-style="normal" fill="#2a2a2a" >0.9</text>
<line x1="498.6" y1="339.9" x2="499.9" y2="339.9" stroke="#3a3a3a" stroke-width="0.9" />
<line x1="617.5" y1="339.9" x2="616.2" y2="339.9" stroke="#3a3a3a" stroke-width="0.9" />
<text x="495.4" y="342.1" font-size="8.6" text-anchor="end" font-weight="normal" font-style="normal" fill="#2a2a2a" >1.0</text>
<polyline points="498.6,341.08 499.51,341.66 500.72,342.43 502.16,343.34 503.76,344.36 505.47,345.45 507.2,346.57 508.89,347.68 510.49,348.75 512.01,349.82 513.54,350.96 515.07,352.14 516.61,353.32 518.17,354.49 519.74,355.61 521.34,356.66 522.97,357.6 524.68,358.45 526.47,359.24 528.3,359.97 530.15,360.65 531.96,361.28 533.71,361.86 535.35,362.41 536.85,362.91 538.16,363.37 539.3,363.76 540.34,364.11 541.3,364.42 542.26,364.7 543.26,364.94 544.34,365.17 545.57,365.39 546.61,365.59 547.28,365.75 547.83,365.9 548.53,366.01 549.62,366.11 551.37,366.2 554.03,366.27 557.85,366.33 563.45,366.38 570.83,366.4 579.37,366.4 588.44,366.39 597.42,366.37 605.67,366.35 612.57,366.34 617.5,366.33" fill="none" stroke="#3673c4" stroke-width="1.1" stroke-linejoin="round" stroke-linecap="round" />
<polyline points="498.6,341.08 499.49,341.62 500.64,342.32 502.01,343.15 503.55,344.09 505.22,345.09 506.96,346.12 508.73,347.16 510.49,348.16 512.27,349.17 514.14,350.24 516.08,351.34 518.07,352.46 520.11,353.57 522.18,354.66 524.26,355.69 526.34,356.66 528.47,357.57 530.67,358.47 532.91,359.33 535.17,360.16 537.42,360.94 539.62,361.66 541.75,362.32 543.78,362.91 545.66,363.41 547.4,363.84 549.04,364.21 550.66,364.52 552.29,364.78 554,365.01 555.83,365.21 557.85,365.39 559.94,365.54 561.98,365.63 564.06,365.69 566.26,365.71 568.66,365.72 571.34,365.72 574.39,365.72 577.87,365.74 582.15,365.77 587.32,365.79 593.03,365.81 598.93,365.82 604.68,365.83 609.92,365.84 614.31,365.85 617.5,365.86" fill="none" stroke="#cc2840" stroke-width="1.1" stroke-linejoin="round" stroke-linecap="round" />
<polyline points="498.6,339.9 498.61,339.92 498.64,339.96 498.68,340.01 498.72,340.07 498.77,340.15 498.83,340.23 498.89,340.32 498.96,340.42 499.04,340.52 499.11,340.64 499.2,340.75 499.29,340.88 499.38,341.01 499.48,341.14 499.59,341.28 499.69,341.42 499.8,341.57 499.92,341.72 500.04,341.88 500.16,342.03 500.29,342.2 500.42,342.36 500.55,342.53 500.69,342.7 500.83,342.87 500.98,343.04 501.12,343.22 501.27,343.39 501.43,343.57 501.59,343.75 501.75,343.94 501.91,344.12 502.08,344.3 502.25,344.49 502.42,344.68 502.6,344.86 502.78,345.05 502.96,345.24 503.14,345.43 503.33,345.61 503.52,345.8 503.72,345.99 503.91,346.18 504.11,346.37 504.31,346.55 504.52,346.74 504.73,346.93 504.94,347.12 505.15,347.3 505.36,347.49 505.58,347.67 505.8,347.86 506.02,348.04 506.25,348.23 506.48,348.41 506.71,348.59 506.94,348.77 507.18,348.95 507.41,349.13 507.65,349.3 507.9,349.48 508.14,349.66 508.39,349.83 508.64,350 508.89,350.17 509.15,350.34 509.4,350.51 509.66,350.68 509.92,350.85 510.19,351.01 510.45,351.18 510.72,351.34 510.99,351.5 511.26,351.66 511.54,351.82 511.82,351.97 512.1,352.13 512.38,352.28 512.66,352.44 512.95,352.59 513.23,352.74 513.52,352.89 513.82,353.03 514.11,353.18 514.41,353.32 514.71,353.46 515.01,353.61 515.31,353.75 515.61,353.88 515.92,354.02 516.23,354.16 516.54,354.29 516.85,354.42 517.17,354.56 517.49,354.69 517.81,354.81 518.13,354.94 518.45,355.07 518.77,355.19 519.1,355.32 519.43,355.44 519.76,355.56 520.09,355.68 520.43,355.79 520.77,355.91 521.1,356.03 521.45,356.14 521.79,356.25 522.13,356.36 522.48,356.47 522.83,356.58 523.18,356.69 523.53,356.8 523.88,356.9 524.24,357.01 524.6,357.11 524.96,357.21 525.32,357.31 525.68,357.41 526.05,357.51 526.41,357.61 526.78,357.7 527.15,357.8 527.52,357.89 527.9,357.98 528.27,358.07 528.65,358.17 529.03,358.25 529.41,358.34 529.8,358.43 530.18,358.52 530.57,358.6 530.96,358.69 531.35,358.77 531.74,358.85 532.13,358.93 532.53,359.01 532.92,359.09 533.32,359.17 533.72,359.25 534.13,359.33 534.53,359.4 534.94,359.48 535.34,359.55 535.75,359.62 536.16,359.7 536.57,359.77 536.99,359.84 537.4,359.91 537.82,359.98 538.24,360.05 538.66,360.11 539.08,360.18 539.51,360.25 539.94,360.31 540.36,360.37 540.79,360.44 541.22,360.5 541.65,360.56 542.09,360.62 542.52,360.68 542.96,360.74 543.4,360.8 543.84,360.86 544.28,360.92 544.73,360.98 545.17,361.03 545.62,361.09 546.07,361.15 546.52,361.2 546.97,361.25 547.42,361.31 547.88,361.36 548.34,361.41 548.79,361.46 549.25,361.51 549.71,361.56 550.18,361.61 550.64,361.66 551.11,361.71 551.58,361.76 552.04,361.81 552.51,361.86 552.99,361.9 553.46,361.95 553.94,361.99 554.41,362.04 554.89,362.08 555.37,362.13 555.85,362.17 556.34,362.21 556.82,362.26 557.31,362.3 557.79,362.34 558.28,362.38 558.77,362.42 559.26,362.46 559.76,362.5 560.25,362.54 560.75,362.58 561.25,362.62 561.75,362.65 562.25,362.69 562.75,362.73 563.25,362.77 563.76,362.8 564.27,362.84 564.77,362.87 565.28,362.91 565.8,362.94 566.31,362.98 566.82,363.01 567.34,363.05 567.85,363.08 568.37,363.11 568.89,363.15 569.41,363.18 569.94,363.21 570.46,363.24 570.99,363.27 571.51,363.3 572.04,363.33 572.57,363.36 573.1,363.39 573.64,363.42 574.17,363.45 574.71,363.48 575.24,363.51 575.78,363.54 576.32,363.57 576.86,363.59 577.41,363.62 577.95,363.65 578.5,363.68 579.04,363.7 579.59,363.73 580.14,363.76 580.69,363.78 581.25,363.81 581.8,363.83 582.36,363.86 582.91,363.88 583.47,363.91 584.03,363.93 584.59,363.96 585.15,363.98 585.72,364 586.28,364.03 586.85,364.05 587.42,364.07 587.99,364.09 588.56,364.12 589.13,364.14 589.7,364.16 590.28,364.18 590.85,364.2 591.43,364.23 592.01,364.25 592.59,364.27 593.17,364.29 593.75,364.31 594.33,364.33 594.92,364.35 595.51,364.37 596.09,364.39 596.68,364.41 597.27,364.43 597.87,364.45 598.46,364.47 599.05,364.49 599.65,364.5 600.25,364.52 600.85,364.54 601.45,364.56 602.05,364.58 602.65,364.59 603.25,364.61 603.86,364.63 604.47,364.65 605.07,364.66 605.68,364.68 606.29,364.7 606.9,364.71 607.52,364.73 608.13,364.75 608.75,364.76 609.36,364.78 609.98,364.79 610.6,364.81 611.22,364.83 611.84,364.84 612.47,364.86 613.09,364.87 613.72,364.89 614.35,364.9 614.97,364.92 615.6,364.93 616.23,364.94 616.87,364.96 617.5,364.97" fill="none" stroke="#965e3a" stroke-width="1.6" stroke-linejoin="round" stroke-linecap="round" />
<text x="589.76" y="350.9" font-size="8.7" text-anchor="start" font-weight="normal" font-style="normal" fill="#c8283c" textLength="22.13" lengthAdjust="spacingAndGlyphs">+KAN</text>
<text x="592.46" y="391.2" font-size="8.85" text-anchor="start" font-weight="normal" font-style="normal" fill="#3b4fb0" textLength="19.19" lengthAdjust="spacingAndGlyphs">+CIP</text>
<text x="501.64" y="373.3" font-size="8.25" text-anchor="start" font-weight="normal" font-style="normal" fill="#a46f48" textLength="24.68" lengthAdjust="spacingAndGlyphs">Theory</text>
</svg></body></html>
